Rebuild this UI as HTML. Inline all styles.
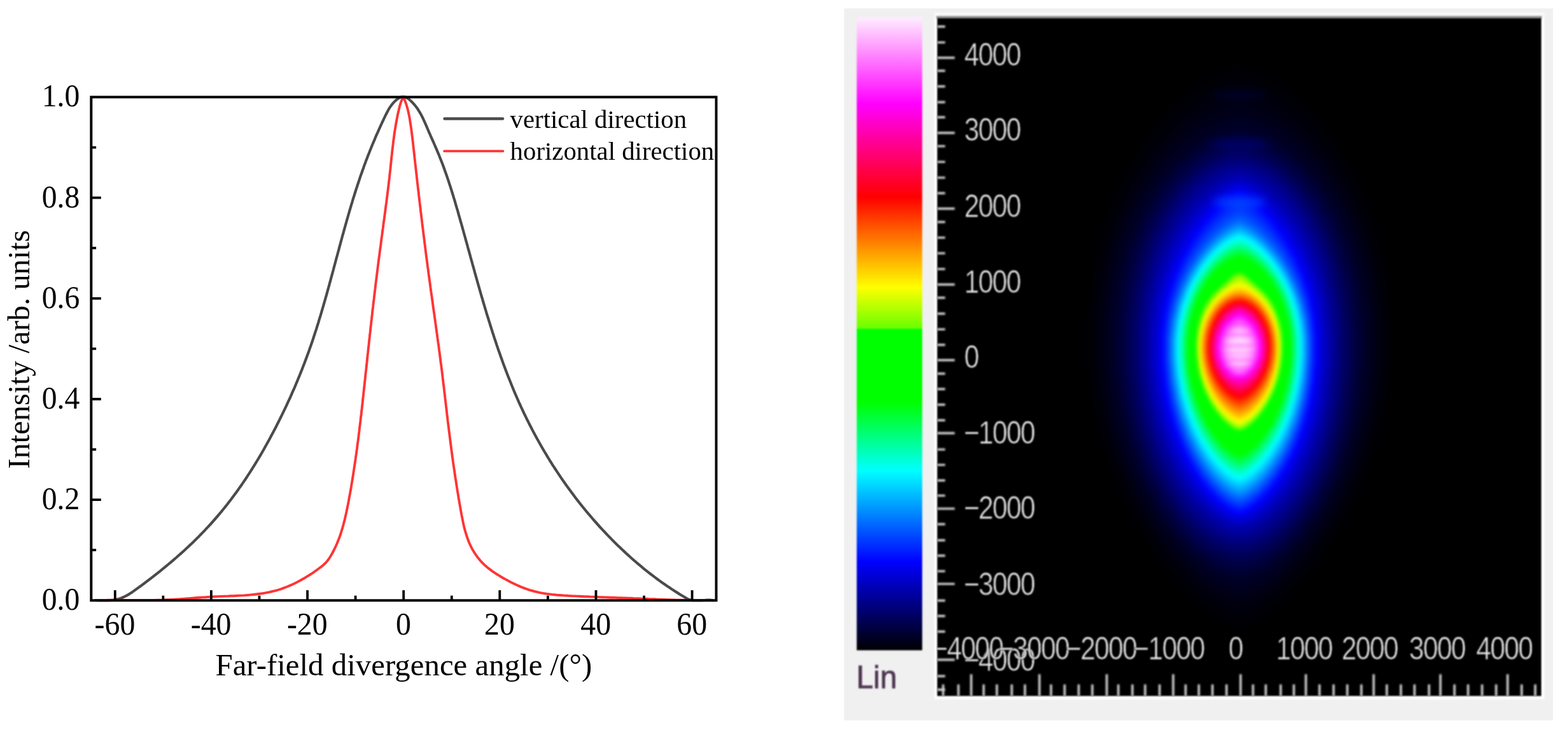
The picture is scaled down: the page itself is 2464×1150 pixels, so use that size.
<!DOCTYPE html>
<html lang="en">
<head>
<meta charset="utf-8">
<title>Far-field divergence angle and beam spot</title>
<style>
html,body{margin:0;padding:0;background:#fff;}
body{width:2464px;height:1150px;overflow:hidden;}
svg{display:block;}
</style>
</head>
<body>
<svg width="2464" height="1150" viewBox="0 0 2464 1150" role="img" aria-label="Far-field divergence curves and beam profile">
<defs>
<linearGradient id="cb" x1="0" y1="0" x2="0" y2="1"><stop offset="0%" stop-color="#ffeeff"/><stop offset="13.67%" stop-color="#ff00ff"/><stop offset="28.44%" stop-color="#ff0000"/><stop offset="42.66%" stop-color="#ffff00"/><stop offset="49.15%" stop-color="#69ff00"/><stop offset="49.3%" stop-color="#00ff00"/><stop offset="60.8%" stop-color="#00ff00"/><stop offset="71.63%" stop-color="#00ffff"/><stop offset="86%" stop-color="#0000ff"/><stop offset="100%" stop-color="#000000"/></linearGradient>
<clipPath id="pc"><rect x="1472.8" y="28.8" width="949.2" height="1064.6"/></clipPath>
<filter id="b1" color-interpolation-filters="sRGB" x="-5%" y="-5%" width="110%" height="110%"><feGaussianBlur color-interpolation-filters="sRGB" stdDeviation="1.1"/></filter>
<filter id="b2" color-interpolation-filters="sRGB" x="-5%" y="-5%" width="110%" height="110%"><feGaussianBlur color-interpolation-filters="sRGB" stdDeviation="1.35"/></filter>
<filter id="bt" color-interpolation-filters="sRGB" x="-10%" y="-30%" width="120%" height="160%"><feGaussianBlur color-interpolation-filters="sRGB" stdDeviation="1.15"/></filter>
<filter id="bs" color-interpolation-filters="sRGB" filterUnits="userSpaceOnUse" x="1400" y="0" width="1100" height="1150"><feGaussianBlur color-interpolation-filters="sRGB" stdDeviation="3.0"/></filter>
<filter id="bo" color-interpolation-filters="sRGB" filterUnits="userSpaceOnUse" x="1400" y="0" width="1100" height="1150"><feGaussianBlur color-interpolation-filters="sRGB" stdDeviation="6"/></filter>
<filter id="bo0" color-interpolation-filters="sRGB" filterUnits="userSpaceOnUse" x="1400" y="0" width="1100" height="1150"><feGaussianBlur color-interpolation-filters="sRGB" stdDeviation="12"/></filter>
</defs>
<rect width="2464" height="1150" fill="#ffffff"/>
<g id="chart">
<g fill="none" stroke-linejoin="round" stroke-linecap="round">
<path d="M150,943 L154.4,943.1 L158.7,943.1 L162.9,943.1 L167,943.1 L171,943.1 L174.9,942.9 L178.7,942.5 L182.4,941.8 L186,941 L189.6,939.9 L193.1,938.5 L196.6,936.9 L200,935.1 L203.4,933.1 L206.7,930.9 L210,928.6 L213.3,926.3 L216.6,923.9 L219.9,921.5 L223.2,919.1 L226.4,916.7 L229.7,914.2 L232.9,911.8 L236.1,909.3 L239.3,906.8 L242.5,904.3 L245.7,901.8 L248.9,899.3 L252.1,896.8 L255.3,894.2 L258.4,891.7 L261.5,889.1 L264.6,886.5 L267.8,883.9 L270.8,881.3 L273.9,878.6 L277,876 L280,873.3 L283.1,870.6 L286.1,867.9 L289.1,865.2 L292,862.5 L295,859.7 L297.9,856.9 L300.9,854.2 L303.8,851.4 L306.7,848.6 L309.5,845.7 L312.4,842.9 L315.2,840 L318,837.1 L320.8,834.3 L323.5,831.3 L326.3,828.4 L329,825.5 L331.7,822.5 L334.4,819.5 L337,816.5 L339.6,813.5 L342.2,810.5 L344.8,807.4 L347.4,804.4 L349.9,801.3 L352.4,798.2 L354.9,795.1 L357.4,792 L359.8,788.8 L362.2,785.7 L364.6,782.5 L367,779.3 L369.4,776.1 L371.7,772.9 L374,769.7 L376.3,766.4 L378.6,763.2 L380.9,759.9 L383.1,756.6 L385.4,753.3 L387.6,750 L389.7,746.6 L391.9,743.3 L394.1,739.9 L396.2,736.6 L398.3,733.2 L400.4,729.8 L402.5,726.4 L404.6,723 L406.6,719.6 L408.7,716.1 L410.7,712.7 L412.7,709.2 L414.7,705.7 L416.6,702.2 L418.6,698.7 L420.5,695.2 L422.5,691.7 L424.4,688.2 L426.3,684.6 L428.2,681.1 L430.1,677.5 L431.9,674 L433.8,670.4 L435.6,666.8 L437.4,663.2 L439.2,659.6 L441,656 L442.8,652.4 L444.6,648.7 L446.3,645.1 L448.1,641.4 L449.8,637.8 L451.5,634.1 L453.2,630.4 L454.9,626.8 L456.6,623.1 L458.2,619.4 L459.8,615.7 L461.5,612 L463.1,608.3 L464.7,604.5 L466.2,600.8 L467.8,597.1 L469.3,593.3 L470.9,589.6 L472.4,585.8 L473.9,582.1 L475.4,578.3 L476.8,574.6 L478.3,570.8 L479.7,567 L481.1,563.2 L482.5,559.4 L483.9,555.7 L485.3,551.9 L486.6,548.1 L488,544.3 L489.3,540.5 L490.6,536.7 L491.9,532.8 L493.1,529 L494.4,525.2 L495.6,521.4 L496.9,517.6 L498.1,513.7 L499.3,509.9 L500.5,506.1 L501.6,502.2 L502.8,498.4 L504,494.6 L505.1,490.7 L506.2,486.9 L507.4,483 L508.5,479.2 L509.6,475.3 L510.7,471.5 L511.8,467.6 L512.9,463.8 L514,459.9 L515,456.1 L516.1,452.2 L517.2,448.4 L518.2,444.5 L519.3,440.6 L520.3,436.8 L521.4,432.9 L522.4,429.1 L523.5,425.2 L524.5,421.3 L525.5,417.5 L526.6,413.6 L527.6,409.7 L528.6,405.9 L529.7,402 L530.7,398.2 L531.8,394.3 L532.8,390.4 L533.8,386.6 L534.9,382.7 L535.9,378.8 L537,375 L538,371.1 L539.1,367.3 L540.2,363.4 L541.2,359.6 L542.3,355.7 L543.4,351.9 L544.5,348 L545.6,344.2 L546.7,340.3 L547.8,336.5 L548.9,332.6 L550,328.8 L551.2,324.9 L552.3,321.1 L553.5,317.3 L554.6,313.4 L555.8,309.6 L557,305.8 L558.2,302 L559.4,298.2 L560.7,294.3 L561.9,290.5 L563.2,286.7 L564.5,282.9 L565.7,279.1 L567,275.3 L568.4,271.5 L569.7,267.7 L571.1,263.9 L572.4,260.1 L573.8,256.4 L575.2,252.6 L576.7,248.8 L578.1,245.1 L579.6,241.3 L581.1,237.5 L582.6,233.8 L584.1,230 L585.6,226.3 L587.2,222.6 L588.8,218.9 L590.3,215.1 L591.9,211.4 L593.6,207.8 L595.2,204.1 L596.9,200.4 L598.5,196.8 L600.2,193.1 L601.9,189.5 L603.6,185.9 L605.3,182.3 L607.1,178.7 L608.9,175.2 L610.8,171.7 L612.9,168.4 L615.2,165.1 L617.8,161.9 L620.7,158.9 L623.9,156.1 L627.4,153.7 L631,152.3 L634.6,152 L638.2,153.1 L641.7,155.2 L645,158 L648.1,161 L650.9,164.1 L653.5,167.3 L655.9,170.5 L658,173.8 L660,177.1 L661.9,180.5 L663.7,183.9 L665.3,187.3 L666.9,190.8 L668.5,194.4 L670,197.9 L671.6,201.6 L673.1,205.2 L674.7,208.9 L676.3,212.5 L678,216.3 L679.6,220 L681.3,223.7 L682.9,227.5 L684.6,231.3 L686.2,235.1 L687.8,238.9 L689.4,242.6 L690.9,246.4 L692.4,250.2 L693.9,254 L695.4,257.8 L696.8,261.6 L698.2,265.4 L699.5,269.2 L700.9,273 L702.2,276.8 L703.5,280.6 L704.8,284.4 L706,288.2 L707.3,292 L708.5,295.9 L709.7,299.7 L710.9,303.5 L712.1,307.3 L713.2,311.1 L714.4,314.9 L715.5,318.8 L716.6,322.6 L717.7,326.4 L718.9,330.2 L720,334.1 L721,337.9 L722.1,341.7 L723.2,345.6 L724.3,349.4 L725.4,353.3 L726.5,357.1 L727.6,361 L728.6,364.8 L729.7,368.7 L730.8,372.5 L731.8,376.4 L732.9,380.3 L734,384.1 L735,388 L736.1,391.9 L737.2,395.7 L738.3,399.6 L739.3,403.5 L740.4,407.3 L741.5,411.2 L742.5,415.1 L743.6,418.9 L744.7,422.8 L745.8,426.7 L746.8,430.5 L747.9,434.4 L749,438.3 L750.1,442.2 L751.2,446 L752.3,449.9 L753.4,453.8 L754.5,457.6 L755.6,461.5 L756.7,465.3 L757.9,469.2 L759,473.1 L760.1,476.9 L761.3,480.8 L762.4,484.6 L763.6,488.5 L764.7,492.3 L765.9,496.2 L767.1,500 L768.3,503.9 L769.5,507.7 L770.7,511.5 L771.9,515.4 L773.1,519.2 L774.3,523 L775.6,526.8 L776.8,530.7 L778.1,534.5 L779.4,538.3 L780.6,542.1 L781.9,545.9 L783.2,549.7 L784.6,553.5 L785.9,557.3 L787.2,561 L788.6,564.8 L789.9,568.6 L791.3,572.4 L792.7,576.1 L794.1,579.9 L795.5,583.6 L797,587.4 L798.4,591.1 L799.9,594.8 L801.4,598.6 L802.9,602.3 L804.4,606 L805.9,609.7 L807.4,613.4 L809,617.1 L810.6,620.8 L812.2,624.5 L813.8,628.1 L815.4,631.8 L817.1,635.5 L818.7,639.1 L820.4,642.7 L822.1,646.4 L823.8,650 L825.6,653.6 L827.3,657.2 L829.1,660.8 L830.9,664.4 L832.7,668 L834.6,671.6 L836.4,675.1 L838.3,678.7 L840.2,682.2 L842.1,685.8 L844,689.3 L846,692.8 L847.9,696.3 L849.9,699.8 L851.9,703.3 L854,706.8 L856,710.2 L858.1,713.7 L860.1,717.1 L862.2,720.5 L864.3,724 L866.5,727.4 L868.6,730.8 L870.8,734.1 L873,737.5 L875.2,740.9 L877.4,744.2 L879.7,747.6 L881.9,750.9 L884.2,754.2 L886.5,757.5 L888.8,760.8 L891.1,764 L893.5,767.3 L895.9,770.5 L898.3,773.8 L900.7,777 L903.1,780.2 L905.5,783.4 L908,786.6 L910.4,789.7 L912.9,792.9 L915.4,796 L918,799.1 L920.5,802.2 L923.1,805.3 L925.7,808.4 L928.3,811.4 L930.9,814.5 L933.5,817.5 L936.2,820.5 L938.8,823.5 L941.5,826.5 L944.2,829.5 L946.9,832.4 L949.7,835.3 L952.4,838.2 L955.2,841.1 L958,844 L960.8,846.9 L963.6,849.7 L966.4,852.6 L969.3,855.4 L972.2,858.2 L975.1,860.9 L978,863.7 L980.9,866.4 L983.8,869.2 L986.8,871.9 L989.7,874.5 L992.7,877.2 L995.7,879.8 L998.8,882.5 L1001.8,885.1 L1004.9,887.7 L1007.9,890.2 L1011,892.8 L1014.1,895.3 L1017.3,897.8 L1020.4,900.3 L1023.6,902.7 L1026.8,905.2 L1030,907.6 L1033.2,910 L1036.4,912.4 L1039.7,914.7 L1043,917 L1046.3,919.3 L1049.6,921.6 L1053,923.8 L1056.3,926.1 L1059.7,928.3 L1063.1,930.4 L1066.6,932.6 L1070,934.7 L1073.5,936.8 L1077,938.9 L1080.5,940.8 L1084.1,942.4 L1087.7,943.1 L1091.4,943.1 L1095.2,943.1 L1099,943.1 L1102.9,943.1 L1107,943 L1111.2,942.7 L1115.5,942.7 L1120,943.1" stroke="#4b4b4b" stroke-width="4.2"/>
<path d="M150,943.1 L154,943.1 L158.1,943 L162.1,942.9 L166.2,942.9 L170.2,942.8 L174.2,942.8 L178.3,942.8 L182.3,942.8 L186.3,942.8 L190.3,942.8 L194.3,942.9 L198.3,942.9 L202.4,942.9 L206.4,943 L210.4,943 L214.4,943 L218.4,943 L222.4,943 L226.4,943 L230.4,943 L234.4,943 L238.4,943 L242.4,942.9 L246.4,942.8 L250.4,942.8 L254.3,942.6 L258.3,942.5 L262.3,942.3 L266.3,942.2 L270.3,941.9 L274.3,941.7 L278.3,941.4 L282.3,941.2 L286.3,940.9 L290.3,940.6 L294.3,940.3 L298.3,940 L302.4,939.6 L306.4,939.3 L310.4,939 L314.4,938.7 L318.4,938.4 L322.4,938.2 L326.5,937.9 L330.5,937.7 L334.5,937.5 L338.6,937.3 L342.6,937.1 L346.6,936.9 L350.7,936.8 L354.7,936.6 L358.8,936.5 L362.8,936.3 L366.8,936.2 L370.9,936 L374.9,935.8 L378.9,935.6 L382.9,935.4 L386.9,935.1 L390.9,934.8 L394.9,934.4 L398.9,934 L402.8,933.5 L406.8,933 L410.7,932.5 L414.7,931.8 L418.6,931.1 L422.5,930.4 L426.4,929.5 L430.2,928.6 L434.1,927.6 L437.9,926.5 L441.7,925.3 L445.5,923.9 L449.3,922.5 L453,921 L456.7,919.4 L460.4,917.7 L464.1,916 L467.7,914.1 L471.3,912.2 L474.8,910.3 L478.3,908.3 L481.7,906.2 L485.1,904.1 L488.5,902 L491.8,899.8 L495,897.5 L498.3,895.2 L501.5,892.8 L504.8,890.4 L508,887.7 L511,885 L513.7,882 L516.2,878.8 L518.4,875.5 L520.5,872 L522.5,868.5 L524.3,865 L526.1,861.4 L527.8,857.8 L529.4,854.2 L530.9,850.5 L532.4,846.8 L533.8,843.1 L535.1,839.3 L536.3,835.5 L537.5,831.7 L538.6,827.9 L539.7,824 L540.7,820.1 L541.7,816.2 L542.6,812.3 L543.5,808.4 L544.4,804.4 L545.2,800.5 L546,796.5 L546.8,792.6 L547.6,788.6 L548.3,784.6 L549,780.7 L549.8,776.7 L550.5,772.7 L551.2,768.8 L551.9,764.8 L552.5,760.8 L553.2,756.9 L553.8,752.9 L554.5,748.9 L555.1,745 L555.7,741 L556.3,737 L556.9,733 L557.5,729.1 L558.1,725.1 L558.7,721.1 L559.2,717.1 L559.8,713.2 L560.3,709.2 L560.9,705.2 L561.4,701.2 L561.9,697.2 L562.5,693.3 L563,689.3 L563.5,685.3 L564,681.3 L564.5,677.3 L564.9,673.4 L565.4,669.4 L565.9,665.4 L566.4,661.4 L566.8,657.4 L567.3,653.4 L567.8,649.4 L568.2,645.5 L568.7,641.5 L569.1,637.5 L569.6,633.5 L570,629.5 L570.4,625.5 L570.9,621.5 L571.3,617.6 L571.7,613.6 L572.2,609.6 L572.6,605.6 L573,601.6 L573.5,597.6 L573.9,593.6 L574.3,589.6 L574.7,585.7 L575.2,581.7 L575.6,577.7 L576,573.7 L576.5,569.7 L576.9,565.7 L577.3,561.7 L577.7,557.7 L578.2,553.7 L578.6,549.7 L579,545.8 L579.5,541.8 L579.9,537.8 L580.3,533.8 L580.8,529.8 L581.2,525.8 L581.7,521.8 L582.1,517.8 L582.5,513.8 L583,509.8 L583.4,505.8 L583.9,501.9 L584.3,497.9 L584.8,493.9 L585.2,489.9 L585.7,485.9 L586.2,481.9 L586.6,477.9 L587.1,473.9 L587.6,469.9 L588,465.9 L588.5,462 L589,458 L589.5,454 L589.9,450 L590.4,446 L590.9,442 L591.4,438 L591.9,434 L592.4,430 L592.9,426.1 L593.4,422.1 L593.9,418.1 L594.4,414.1 L594.9,410.1 L595.4,406.1 L596,402.1 L596.5,398.1 L597,394.2 L597.5,390.2 L598.1,386.2 L598.6,382.2 L599.1,378.2 L599.6,374.2 L600.2,370.3 L600.7,366.3 L601.2,362.3 L601.8,358.3 L602.3,354.3 L602.8,350.3 L603.4,346.4 L603.9,342.4 L604.4,338.4 L605,334.4 L605.5,330.4 L606,326.5 L606.5,322.5 L607.1,318.5 L607.6,314.5 L608.1,310.5 L608.6,306.6 L609.1,302.6 L609.6,298.6 L610.1,294.6 L610.6,290.6 L611,286.7 L611.5,282.7 L612,278.7 L612.4,274.7 L612.8,270.7 L613.3,266.8 L613.7,262.8 L614.1,258.8 L614.5,254.8 L614.9,250.8 L615.3,246.8 L615.8,242.8 L616.2,238.8 L616.6,234.9 L617.1,230.9 L617.6,226.9 L618,222.9 L618.6,218.9 L619.1,214.9 L619.6,210.9 L620.2,206.9 L620.9,202.9 L621.5,198.9 L622.2,194.9 L622.9,190.9 L623.6,187 L624.4,183 L625.2,179.1 L626.1,175.2 L627,171.4 L627.9,167.5 L629,163.7 L630.2,160 L631.8,156.3 L633.8,152.6 L635.5,156.4 L637.1,160.1 L638.4,163.9 L639.6,167.8 L640.7,171.6 L641.6,175.5 L642.4,179.3 L643.2,183.2 L643.9,187.1 L644.5,191.1 L645.1,195 L645.7,199 L646.3,202.9 L646.8,206.9 L647.3,210.9 L647.8,214.9 L648.3,218.9 L648.8,222.9 L649.2,226.9 L649.7,230.9 L650.1,234.9 L650.6,238.9 L651,242.9 L651.4,246.9 L651.9,250.9 L652.3,254.9 L652.8,258.9 L653.2,262.9 L653.7,267 L654.1,271 L654.6,275 L655,279 L655.5,283 L655.9,287 L656.4,291 L656.8,295 L657.3,299 L657.8,303 L658.2,306.9 L658.7,310.9 L659.2,314.9 L659.6,318.9 L660.1,322.9 L660.6,326.9 L661,330.9 L661.5,334.9 L662,338.9 L662.5,342.9 L663,346.9 L663.4,350.9 L663.9,354.9 L664.4,358.8 L664.9,362.8 L665.4,366.8 L665.9,370.8 L666.4,374.8 L666.9,378.8 L667.4,382.8 L667.9,386.7 L668.4,390.7 L668.9,394.7 L669.4,398.7 L669.9,402.7 L670.5,406.7 L671,410.7 L671.5,414.6 L672,418.6 L672.6,422.6 L673.1,426.6 L673.6,430.6 L674.2,434.6 L674.7,438.5 L675.3,442.5 L675.8,446.5 L676.3,450.5 L676.9,454.5 L677.4,458.5 L678,462.5 L678.6,466.4 L679.1,470.4 L679.7,474.4 L680.2,478.4 L680.8,482.4 L681.3,486.4 L681.9,490.3 L682.5,494.3 L683,498.3 L683.6,502.3 L684.1,506.3 L684.7,510.3 L685.2,514.2 L685.8,518.2 L686.3,522.2 L686.9,526.2 L687.4,530.2 L688,534.2 L688.5,538.2 L689.1,542.1 L689.6,546.1 L690.1,550.1 L690.7,554.1 L691.2,558.1 L691.7,562.1 L692.2,566 L692.7,570 L693.3,574 L693.8,578 L694.3,582 L694.8,586 L695.3,590 L695.7,593.9 L696.2,597.9 L696.7,601.9 L697.2,605.9 L697.7,609.9 L698.1,613.9 L698.6,617.8 L699.1,621.8 L699.5,625.8 L700,629.8 L700.5,633.8 L700.9,637.8 L701.4,641.8 L701.9,645.7 L702.3,649.7 L702.8,653.7 L703.3,657.7 L703.7,661.7 L704.2,665.7 L704.7,669.7 L705.2,673.7 L705.7,677.6 L706.2,681.6 L706.7,685.6 L707.2,689.6 L707.7,693.6 L708.2,697.6 L708.7,701.6 L709.2,705.5 L709.8,709.5 L710.3,713.5 L710.8,717.5 L711.4,721.5 L711.9,725.5 L712.5,729.5 L713.1,733.5 L713.7,737.5 L714.3,741.4 L714.8,745.4 L715.4,749.4 L716.1,753.4 L716.7,757.4 L717.3,761.4 L717.9,765.4 L718.6,769.4 L719.2,773.4 L719.9,777.3 L720.5,781.3 L721.2,785.3 L721.9,789.3 L722.6,793.3 L723.3,797.3 L724,801.3 L724.7,805.3 L725.4,809.3 L726.2,813.2 L727,817.2 L727.8,821.2 L728.7,825.1 L729.6,829 L730.6,832.9 L731.7,836.7 L732.9,840.5 L734.1,844.3 L735.5,848 L736.9,851.7 L738.5,855.3 L740.2,858.9 L742,862.4 L744,865.8 L746.1,869.2 L748.3,872.5 L750.7,875.7 L753.2,878.8 L755.8,881.9 L758.6,884.8 L761.5,887.6 L764.5,890.3 L767.7,892.9 L771,895.4 L774.3,897.8 L777.7,900.1 L781.1,902.3 L784.5,904.4 L787.9,906.5 L791.3,908.5 L794.8,910.4 L798.3,912.3 L801.9,914.2 L805.5,916 L809.2,917.8 L812.9,919.5 L816.6,921.1 L820.3,922.7 L824.1,924.1 L828,925.5 L831.8,926.8 L835.6,927.9 L839.5,929 L843.4,929.9 L847.3,930.8 L851.2,931.6 L855.1,932.3 L859,932.9 L862.9,933.4 L866.9,933.9 L870.8,934.3 L874.8,934.7 L878.8,935 L882.7,935.3 L886.7,935.6 L890.7,935.8 L894.7,936.1 L898.7,936.3 L902.7,936.4 L906.8,936.6 L910.8,936.8 L914.8,937 L918.8,937.2 L922.9,937.3 L926.9,937.5 L931,937.6 L935,937.8 L939,937.9 L943.1,938.1 L947.1,938.2 L951.2,938.4 L955.2,938.5 L959.3,938.7 L963.3,938.8 L967.4,938.9 L971.4,939.1 L975.5,939.2 L979.5,939.4 L983.5,939.5 L987.6,939.7 L991.6,939.8 L995.6,940 L999.6,940.1 L1003.6,940.3 L1007.6,940.5 L1011.6,940.6 L1015.7,940.8 L1019.7,941 L1023.7,941.1 L1027.6,941.3 L1031.6,941.5 L1035.6,941.6 L1039.6,941.8 L1043.6,941.9 L1047.6,942.1 L1051.6,942.2 L1055.6,942.4 L1059.6,942.5 L1063.6,942.6 L1067.6,942.7 L1071.6,942.8 L1075.6,942.9 L1079.6,943 L1083.7,943.1 L1087.7,943.1 L1091.7,943.1 L1095.7,943.1 L1099.8,943.1 L1103.8,943.1 L1107.8,943.1 L1111.9,943.1 L1115.9,943.1 L1120,943.1" stroke="#ff3434" stroke-width="3.9"/>
</g>
<rect x="143.3" y="152.5" width="982.2" height="790.8" fill="none" stroke="#000" stroke-width="4"/>
<path d="M180.8,943.3V927.3M256.4,943.3V935.7M331.9,943.3V927.3M407.5,943.3V935.7M483.1,943.3V927.3M558.6,943.3V935.7M634.2,943.3V927.3M709.8,943.3V935.7M785.3,943.3V927.3M860.9,943.3V935.7M936.5,943.3V927.3M1012.1,943.3V935.7M1087.6,943.3V927.3M143.3,864.2H151.1M143.3,785.1H158.8M143.3,706.1H151.1M143.3,627H158.8M143.3,547.9H151.1M143.3,468.8H158.8M143.3,389.7H151.1M143.3,310.7H158.8M143.3,231.6H151.1" fill="none" stroke="#000" stroke-width="3.8"/>
<g font-family='"Liberation Serif", "Times New Roman", Times, serif' font-size="48.6" fill="#000">
<g text-anchor="middle">
<text transform="translate(180.5,997.3) scale(0.985,1.025)">-60</text>
<text transform="translate(331.6,997.3) scale(0.985,1.025)">-40</text>
<text transform="translate(482.8,997.3) scale(0.985,1.025)">-20</text>
<text transform="translate(633.9,997.3) scale(0.985,1.025)">0</text>
<text transform="translate(785,997.3) scale(0.985,1.025)">20</text>
<text transform="translate(936.2,997.3) scale(0.985,1.025)">40</text>
<text transform="translate(1087.3,997.3) scale(0.985,1.025)">60</text>
</g>
<g text-anchor="end">
<text transform="translate(125.3,958.1) scale(0.98,1.04)">0.0</text>
<text transform="translate(125.3,799.9) scale(0.98,1.04)">0.2</text>
<text transform="translate(125.3,641.8) scale(0.98,1.04)">0.4</text>
<text transform="translate(125.3,483.6) scale(0.98,1.04)">0.6</text>
<text transform="translate(125.3,325.5) scale(0.98,1.04)">0.8</text>
<text transform="translate(125.3,167.3) scale(0.98,1.04)">1.0</text>
</g>
</g>
<text x="634.4" y="1060.8" font-family='"Liberation Serif", "Times New Roman", Times, serif' font-size="48.9" text-anchor="middle" fill="#000">Far-field divergence angle /(°)</text>
<text transform="translate(45.7,549) rotate(-90)" font-family='"Liberation Serif", "Times New Roman", Times, serif' font-size="48.4" text-anchor="middle" fill="#000">Intensity /arb. units</text>
<g fill="none" stroke-linecap="round">
<path d="M698.6,186.6H790" stroke="#4b4b4b" stroke-width="4.5"/>
<path d="M698.2,237.4H790.4" stroke="#ff3434" stroke-width="3.7"/>
</g>
<g font-family='"Liberation Serif", "Times New Roman", Times, serif' font-size="40.8" fill="#000">
<text x="801.6" y="200.8">vertical direction</text>
<text x="801.6" y="250.8">horizontal direction</text>
</g>
</g>
<g id="panel">
<rect x="1326.5" y="13.2" width="1114" height="1118.5" fill="#f0f0f0"/>
<rect x="1346.3" y="27.0" width="102.9" height="994.6" fill="url(#cb)" filter="url(#b1)"/>
<g filter="url(#b1)">
<rect x="1468.3" y="19.3" width="958.7" height="8" fill="#f8f8f8"/>
<rect x="1468.3" y="26.8" width="958.5" height="1072" fill="#ffffff"/>
<rect x="1471.3" y="25.2" width="951.7" height="4" fill="#909090"/>
<rect x="1472.8" y="28.8" width="949.2" height="1064.6" fill="#000"/>
</g>
<g clip-path="url(#pc)">
<g filter="url(#bo0)">
<path d="M2189.5,576.1L2179.1,646.8L2159.1,719.6L2130.9,789.6L2096.3,853.2L2058.1,907.6L2019.2,950.6L1983.3,980.2L1955.1,995.3L1939.9,995.3L1911.7,980.2L1875.8,950.6L1836.9,907.6L1798.7,853.2L1764.1,789.6L1735.9,719.6L1715.9,646.8L1705.5,576.1L1705.4,496.3L1715.1,412.4L1734,337.4L1760.8,270.6L1793.9,212.9L1831.2,165.2L1869.9,128.6L1907,103.7L1938,91.1L1957,91.1L1988,103.7L2025.1,128.6L2063.8,165.2L2101.1,212.9L2134.2,270.6L2161,337.4L2179.9,412.4L2189.6,496.3Z" fill="#000002"/>
<path d="M2188.5,576L2178.2,646.4L2158.3,719L2130.2,788.7L2095.8,852.1L2057.7,906.3L2019,949.1L1983.2,978.6L1955.1,993.6L1939.9,993.6L1911.8,978.6L1876,949.1L1837.3,906.3L1799.2,852.1L1764.8,788.7L1736.7,719L1716.8,646.4L1706.5,576L1706.4,496.6L1716.1,413L1734.8,338.3L1761.5,271.9L1794.5,214.4L1831.6,167L1870.2,130.5L1907.2,105.7L1938,93.2L1957,93.2L1987.8,105.7L2024.8,130.5L2063.4,167L2100.5,214.4L2133.5,271.9L2160.2,338.3L2178.9,413L2188.6,496.6Z" fill="#000002"/>
<path d="M2187.4,576L2177.2,646.1L2157.4,718.3L2129.4,787.7L2095.2,850.9L2057.4,904.8L2018.8,947.4L1983.1,976.8L1955.1,991.7L1939.9,991.7L1911.9,976.8L1876.2,947.4L1837.6,904.8L1799.8,850.9L1765.6,787.7L1737.6,718.3L1717.8,646.1L1707.6,576L1707.5,496.8L1717.1,413.7L1735.8,339.4L1762.3,273.3L1795.1,216.1L1832,168.9L1870.5,132.6L1907.3,108L1938,95.5L1957,95.5L1987.7,108L2024.5,132.6L2063,168.9L2099.9,216.1L2132.7,273.3L2159.2,339.4L2177.9,413.7L2187.5,496.8Z" fill="#000002"/>
<path d="M2186.2,575.8L2176,645.7L2156.3,717.6L2128.5,786.7L2094.6,849.5L2056.9,903.2L2018.6,945.5L1983.1,974.7L1955.1,989.6L1939.9,989.6L1911.9,974.7L1876.4,945.5L1838.1,903.2L1800.4,849.5L1766.5,786.7L1738.7,717.6L1719,645.7L1708.8,575.8L1708.7,497.1L1718.3,414.5L1736.8,340.6L1763.2,274.9L1795.8,218.1L1832.5,171.1L1870.8,135L1907.4,110.5L1938,98.2L1957,98.2L1987.6,110.5L2024.2,135L2062.5,171.1L2099.2,218.1L2131.8,274.9L2158.2,340.6L2176.7,414.5L2186.3,497.1Z" fill="#000003"/>
<path d="M2184.9,575.7L2174.8,645.2L2155.2,716.8L2127.6,785.5L2093.9,847.9L2056.5,901.4L2018.4,943.5L1983,972.5L1955.2,987.3L1939.8,987.3L1912,972.5L1876.6,943.5L1838.5,901.4L1801.1,847.9L1767.4,785.5L1739.8,716.8L1720.2,645.2L1710.1,575.7L1710,497.4L1719.5,415.3L1738,341.9L1764.2,276.6L1796.6,220.2L1833.1,173.6L1871.1,137.7L1907.6,113.4L1938,101.1L1957,101.1L1987.4,113.4L2023.9,137.7L2061.9,173.6L2098.4,220.2L2130.8,276.6L2157,341.9L2175.5,415.3L2185,497.4Z" fill="#000003"/>
<path d="M2183.5,575.6L2173.5,644.7L2154.1,715.9L2126.7,784.2L2093.2,846.3L2056.1,899.4L2018.1,941.2L1982.9,970.1L1955.2,984.8L1939.8,984.8L1912.1,970.1L1876.9,941.2L1838.9,899.4L1801.8,846.3L1768.3,784.2L1740.9,715.9L1721.5,644.7L1711.5,575.6L1711.4,497.8L1720.8,416.3L1739.1,343.4L1765.2,278.5L1797.4,222.5L1833.6,176.2L1871.4,140.6L1907.7,116.4L1938,104.2L1957,104.2L1987.3,116.4L2023.6,140.6L2061.4,176.2L2097.6,222.5L2129.8,278.5L2155.9,343.4L2174.2,416.3L2183.6,497.8Z" fill="#000004"/>
<path d="M2182,575.5L2172.1,644.2L2152.9,714.9L2125.7,782.8L2092.5,844.4L2055.6,897.2L2017.9,938.7L1982.9,967.4L1955.2,982L1939.8,982L1912.1,967.4L1877.1,938.7L1839.4,897.2L1802.5,844.4L1769.3,782.8L1742.1,714.9L1722.9,644.2L1713,575.5L1712.9,498.1L1722.2,417.3L1740.4,345L1766.2,280.6L1798.2,225L1834.2,179.1L1871.8,143.8L1907.8,119.8L1938.1,107.7L1956.9,107.7L1987.2,119.8L2023.2,143.8L2060.8,179.1L2096.8,225L2128.8,280.6L2154.6,345L2172.8,417.3L2182.1,498.1Z" fill="#000005"/>
<path d="M2180.5,575.3L2170.6,643.6L2151.6,713.8L2124.7,781.2L2091.7,842.4L2055.1,894.7L2017.7,935.9L1982.8,964.4L1955.2,978.9L1939.8,978.9L1912.2,964.4L1877.3,935.9L1839.9,894.7L1803.3,842.4L1770.3,781.2L1743.4,713.8L1724.4,643.6L1714.5,575.3L1714.5,498.6L1723.7,418.4L1741.7,346.7L1767.4,283L1799.1,227.9L1834.8,182.3L1872.1,147.3L1908,123.6L1938.1,111.5L1956.9,111.5L1987,123.6L2022.9,147.3L2060.2,182.3L2095.9,227.9L2127.6,283L2153.3,346.7L2171.3,418.4L2180.5,498.6Z" fill="#000005"/>
<path d="M2178.8,575.2L2169,643L2150.2,712.6L2123.5,779.5L2090.9,840.1L2054.6,892L2017.5,932.9L1982.8,961.1L1955.2,975.4L1939.8,975.4L1912.2,961.1L1877.5,932.9L1840.4,892L1804.1,840.1L1771.5,779.5L1744.8,712.6L1726,643L1716.2,575.2L1716.2,499L1725.3,419.7L1743.2,348.7L1768.6,285.5L1800,231L1835.5,185.9L1872.5,151.2L1908.1,127.7L1938.1,115.8L1956.9,115.8L1986.9,127.7L2022.5,151.2L2059.5,185.9L2095,231L2126.4,285.5L2151.8,348.7L2169.7,419.7L2178.8,499Z" fill="#000006"/>
<path d="M2177,575L2167.4,642.3L2148.7,711.4L2122.4,777.6L2090.1,837.7L2054.1,889.1L2017.3,929.6L1982.8,957.5L1955.3,971.7L1939.7,971.7L1912.2,957.5L1877.7,929.6L1840.9,889.1L1804.9,837.7L1772.6,777.6L1746.3,711.4L1727.6,642.3L1718,575L1718,499.5L1727,421L1744.7,350.8L1769.9,288.3L1801,234.3L1836.1,189.7L1872.8,155.4L1908.2,132.2L1938.1,120.4L1956.9,120.4L1986.8,132.2L2022.2,155.4L2058.9,189.7L2094,234.3L2125.1,288.3L2150.3,350.8L2168,421L2177,499.5Z" fill="#000007"/>
<path d="M2175.1,574.8L2165.6,641.6L2147.2,710L2121.2,775.6L2089.2,835.2L2053.6,886.1L2017.1,926.1L1982.8,953.7L1955.3,967.8L1939.7,967.8L1912.2,953.7L1877.9,926.1L1841.4,886.1L1805.8,835.2L1773.8,775.6L1747.8,710L1729.4,641.6L1719.9,574.8L1719.8,500.1L1728.8,422.5L1746.3,353.1L1771.2,291.3L1802,238L1836.8,193.9L1873.2,160L1908.3,137L1938.1,125.3L1956.9,125.3L1986.7,137L2021.8,160L2058.2,193.9L2093,238L2123.8,291.3L2148.7,353.1L2166.2,422.5L2175.2,500.1Z" fill="#000009"/>
<path d="M2173.1,574.7L2163.8,640.9L2145.6,708.7L2119.9,773.7L2088.3,832.6L2053.1,883L2016.9,922.6L1982.9,949.9L1955.4,963.9L1939.6,963.9L1912.1,949.9L1878.1,922.6L1841.9,883L1806.7,832.6L1775.1,773.7L1749.4,708.7L1731.2,640.9L1721.9,574.7L1721.8,500.7L1730.7,424L1747.9,355.5L1772.6,294.5L1803,241.8L1837.5,198.3L1873.6,164.8L1908.5,142.1L1938,130.6L1957,130.6L1986.5,142.1L2021.4,164.8L2057.5,198.3L2092,241.8L2122.4,294.5L2147.1,355.5L2164.3,424L2173.2,500.7Z" fill="#00000a"/>
<path d="M2171,574.5L2161.8,640.2L2144,707.3L2118.6,771.6L2087.5,829.9L2052.7,879.7L2016.8,918.9L1983,945.9L1955.5,959.7L1939.5,959.7L1912,945.9L1878.2,918.9L1842.3,879.7L1807.5,829.9L1776.4,771.6L1751,707.3L1733.2,640.2L1724,574.5L1723.9,501.3L1732.7,425.7L1749.7,358.1L1774,298L1804.1,246.1L1838.2,203.1L1873.9,170.1L1908.5,147.7L1938,136.4L1957,136.4L1986.5,147.7L2021.1,170.1L2056.8,203.1L2090.9,246.1L2121,298L2145.3,358.1L2162.3,425.7L2171.1,501.3Z" fill="#00000c"/>
<path d="M2168.9,574.3L2159.8,639.4L2142.2,705.9L2117.3,769.5L2086.6,827.1L2052.2,876.3L2016.7,915L1983.1,941.7L1955.6,955.3L1939.4,955.3L1911.9,941.7L1878.3,915L1842.8,876.3L1808.4,827.1L1777.7,769.5L1752.8,705.9L1735.2,639.4L1726.1,574.3L1726.1,502L1734.7,427.5L1751.5,361L1775.5,301.8L1805.2,250.6L1838.9,208.3L1874.3,175.8L1908.6,153.8L1938,142.6L1957,142.6L1986.4,153.8L2020.7,175.8L2056.1,208.3L2089.8,250.6L2119.5,301.8L2143.5,361L2160.3,427.5L2168.9,502Z" fill="#00000e"/>
<path d="M2166.6,574.2L2157.7,638.7L2140.4,704.5L2115.9,767.3L2085.7,824.2L2051.8,872.8L2016.6,910.9L1983.3,937.3L1955.8,950.7L1939.2,950.7L1911.7,937.3L1878.4,910.9L1843.2,872.8L1809.3,824.2L1779.1,767.3L1754.6,704.5L1737.3,638.7L1728.4,574.2L1728.4,502.7L1736.9,429.5L1753.4,364L1777,305.8L1806.4,255.4L1839.6,213.9L1874.6,181.9L1908.7,160.2L1937.9,149.2L1957.1,149.2L1986.3,160.2L2020.4,181.9L2055.4,213.9L2088.6,255.4L2118,305.8L2141.6,364L2158.1,429.5L2166.6,502.7Z" fill="#000010"/>
<path d="M2164.1,574.1L2155.4,637.9L2138.5,702.9L2114.4,765L2084.7,821.1L2051.3,869L2016.6,906.6L1983.5,932.6L1955.9,945.8L1939.1,945.8L1911.5,932.6L1878.4,906.6L1843.7,869L1810.3,821.1L1780.6,765L1756.5,702.9L1739.6,637.9L1730.9,574.1L1730.8,503.4L1739.2,431.5L1755.5,367.2L1778.7,310L1807.6,260.5L1840.4,219.6L1874.9,188.2L1908.7,166.9L1937.8,156.1L1957.2,156.1L1986.3,166.9L2020.1,188.2L2054.6,219.6L2087.4,260.5L2116.3,310L2139.5,367.2L2155.8,431.5L2164.2,503.4Z" fill="#000013"/>
<path d="M2161.5,573.9L2153,637.1L2136.5,701.3L2112.9,762.5L2083.8,817.8L2051,864.9L2016.7,901.9L1983.8,927.5L1956.2,940.5L1938.8,940.5L1911.2,927.5L1878.3,901.9L1844,864.9L1811.2,817.8L1782.1,762.5L1758.5,701.3L1742,637.1L1733.5,573.9L1733.4,504.2L1741.6,433.7L1757.6,370.6L1780.4,314.5L1808.8,265.9L1841.1,225.9L1875.2,195L1908.7,174.1L1937.7,163.5L1957.3,163.5L1986.3,174.1L2019.8,195L2053.9,225.9L2086.2,265.9L2114.6,314.5L2137.4,370.6L2153.4,433.7L2161.6,504.2Z" fill="#000016"/>
<path d="M2158.9,573.8L2150.5,636.3L2134.4,699.6L2111.4,759.8L2082.9,814.2L2050.6,860.6L2016.8,897L1984.1,922.1L1956.4,934.8L1938.6,934.8L1910.9,922.1L1878.2,897L1844.4,860.6L1812.1,814.2L1783.6,759.8L1760.6,699.6L1744.5,636.3L1736.1,573.8L1736.1,505.1L1744.1,436L1759.8,374.2L1782.2,319.3L1810.1,271.8L1841.8,232.5L1875.5,202.3L1908.6,181.8L1937.6,171.5L1957.4,171.5L1986.4,181.8L2019.5,202.3L2053.2,232.5L2084.9,271.8L2112.8,319.3L2135.2,374.2L2150.9,436L2158.9,505.1Z" fill="#000019"/>
<path d="M2155.9,573.6L2147.8,635.4L2132.1,697.8L2109.7,757L2081.8,810.5L2050.3,856L2017,891.7L1984.6,916.3L1956.7,928.8L1938.3,928.8L1910.4,916.3L1878,891.7L1844.7,856L1813.2,810.5L1785.3,757L1762.9,697.8L1747.2,635.4L1739.1,573.6L1739.1,506L1746.9,438.4L1762.2,378L1784.1,324.2L1811.4,277.8L1842.6,239.4L1875.8,209.9L1908.5,189.8L1937.4,179.7L1957.6,179.7L1986.5,189.8L2019.2,209.9L2052.4,239.4L2083.6,277.8L2110.9,324.2L2132.8,378L2148.1,438.4L2155.9,506Z" fill="#00001d"/>
<path d="M2152.3,573.5L2144.5,634.6L2129.3,695.9L2107.6,754.1L2080.5,806.5L2049.7,851.1L2017.1,886.1L1985,910.2L1957,922.4L1938,922.4L1910,910.2L1877.9,886.1L1845.3,851.1L1814.5,806.5L1787.4,754.1L1765.7,695.9L1750.5,634.6L1742.7,573.5L1742.6,506.9L1750.3,440.8L1765.1,381.6L1786.5,329L1813.1,283.6L1843.6,246L1876.2,217.1L1908.5,197.5L1937.3,187.6L1957.7,187.6L1986.5,197.5L2018.8,217.1L2051.4,246L2081.9,283.6L2108.5,329L2129.9,381.6L2144.7,440.8L2152.4,506.9Z" fill="#000022"/>
<path d="M2148,573.4L2140.5,633.7L2125.9,693.9L2105,751L2078.8,802.3L2048.9,845.9L2017.1,880.1L1985.5,903.6L1957.4,915.5L1937.6,915.5L1909.5,903.6L1877.9,880.1L1846.1,845.9L1816.2,802.3L1790,751L1769.1,693.9L1754.5,633.7L1747,573.4L1747,507.7L1754.4,443.1L1768.7,385.3L1789.4,333.8L1815.3,289.3L1844.9,252.6L1876.7,224.4L1908.5,205.2L1937.1,195.5L1957.9,195.5L1986.5,205.2L2018.3,224.4L2050.1,252.6L2079.7,289.3L2105.6,333.8L2126.3,385.3L2140.6,443.1L2148,507.7Z" fill="#000028"/>
<path d="M2143,573.3L2135.8,632.7L2121.9,691.9L2101.9,747.7L2076.8,797.8L2047.9,840.3L2016.9,873.6L1985.9,896.5L1957.8,908.2L1937.2,908.2L1909.1,896.5L1878.1,873.6L1847.1,840.3L1818.2,797.8L1793.1,747.7L1773.1,691.9L1759.2,632.7L1752,573.3L1752,508.6L1759.1,445.4L1772.9,388.9L1792.8,338.6L1817.8,295.1L1846.5,259.2L1877.4,231.6L1908.5,212.9L1936.9,203.4L1958.1,203.4L1986.5,212.9L2017.6,231.6L2048.5,259.2L2077.2,295.1L2102.2,338.6L2122.1,388.9L2135.9,445.4L2143,508.6Z" fill="#00002f"/>
</g>
<g filter="url(#bo)">
<path d="M2137.6,573.3L2130.9,631.8L2117.6,689.8L2098.5,744.3L2074.5,793.2L2046.8,834.6L2016.8,867L1986.4,889.2L1958.3,900.6L1936.7,900.6L1908.6,889.2L1878.2,867L1848.2,834.6L1820.5,793.2L1796.5,744.3L1777.4,689.8L1764.1,631.8L1757.4,573.3L1757.4,509.4L1764.1,447.7L1777.4,392.4L1796.5,343.3L1820.5,300.8L1848.2,265.7L1878.2,238.7L1908.6,220.4L1936.7,211.2L1958.3,211.2L1986.4,220.4L2016.8,238.7L2046.8,265.7L2074.5,300.8L2098.5,343.3L2117.6,392.4L2130.9,447.7L2137.6,509.4Z" fill="#000037"/>
<path d="M2132.2,573.1L2125.7,630.7L2112.9,687.5L2094.5,740.7L2071.3,788.4L2044.4,828.7L2015.4,860.2L1985.8,881.8L1958.2,892.9L1936.8,892.9L1909.2,881.8L1879.6,860.2L1850.6,828.7L1823.7,788.4L1800.5,740.7L1782.1,687.5L1769.3,630.7L1762.8,573.1L1762.8,510.7L1769.4,450.6L1782.2,396.6L1800.7,348.5L1823.9,306.8L1850.8,272.4L1879.9,245.9L1909.5,227.9L1936.9,218.8L1958.1,218.8L1985.5,227.9L2015.1,245.9L2044.2,272.4L2071.1,306.8L2094.3,348.5L2112.8,396.6L2125.6,450.6L2132.2,510.7Z" fill="#000040"/>
<path d="M2127.3,573.1L2120.9,629.8L2108.6,685.5L2090.8,737.6L2068.3,784.1L2042.3,823.4L2014,854.2L1985.2,875.3L1958.2,886L1936.8,886L1909.8,875.3L1881,854.2L1852.7,823.4L1826.7,784.1L1804.2,737.6L1786.4,685.5L1774.1,629.8L1767.7,573.1L1767.7,511.9L1774.1,453.2L1786.5,400.3L1804.5,353L1827,312.1L1853.2,278.2L1881.5,252.1L1910.3,234.4L1937.1,225.4L1957.9,225.4L1984.7,234.4L2013.5,252.1L2041.8,278.2L2068,312.1L2090.5,353L2108.5,400.3L2120.9,453.2L2127.3,511.9Z" fill="#000049"/>
<path d="M2122.7,573L2116.6,629L2104.7,683.7L2087.4,734.7L2065.6,780.2L2040.3,818.7L2012.8,848.7L1984.6,869.2L1958.1,879.7L1936.9,879.7L1910.4,869.2L1882.2,848.7L1854.7,818.7L1829.4,780.2L1807.6,734.7L1790.3,683.7L1778.4,629L1772.3,573L1772.3,512.9L1778.5,455.5L1790.5,403.5L1808,357L1829.9,316.7L1855.3,283.2L1882.9,257.5L1911,240L1937.2,231.1L1957.8,231.1L1984,240L2012.1,257.5L2039.7,283.2L2065.1,316.7L2087,357L2104.5,403.5L2116.5,455.5L2122.7,512.9Z" fill="#000052"/>
<path d="M2118.5,572.9L2112.6,628.3L2101,682L2084.2,732L2063.1,776.6L2038.5,814.1L2011.7,843.4L1984.1,863.5L1958.1,873.7L1936.9,873.7L1910.9,863.5L1883.3,843.4L1856.5,814.1L1831.9,776.6L1810.8,732L1794,682L1782.4,628.3L1776.5,572.9L1776.5,513.9L1782.5,457.6L1794.3,406.4L1811.2,360.6L1832.6,320.7L1857.3,287.7L1884.2,262.2L1911.7,244.9L1937.4,236.1L1957.6,236.1L1983.3,244.9L2010.8,262.2L2037.7,287.7L2062.4,320.7L2083.8,360.6L2100.7,406.4L2112.5,457.6L2118.5,513.9Z" fill="#00005b"/>
<path d="M2114.5,572.9L2108.8,627.6L2097.5,680.4L2081.3,729.5L2060.7,773.2L2036.8,809.9L2010.6,838.5L1983.7,858.1L1958,868.1L1937,868.1L1911.3,858.1L1884.4,838.5L1858.2,809.9L1834.3,773.2L1813.7,729.5L1797.5,680.4L1786.2,627.6L1780.5,572.9L1780.5,514.7L1786.4,459.5L1797.8,409.1L1814.3,363.8L1835.1,324.4L1859.2,291.7L1885.5,266.5L1912.3,249.3L1937.5,240.6L1957.5,240.6L1982.7,249.3L2009.5,266.5L2035.8,291.7L2059.9,324.4L2080.7,363.8L2097.2,409.1L2108.6,459.5L2114.5,514.7Z" fill="#000064"/>
<path d="M2110.7,572.9L2105.2,626.9L2094.2,678.9L2078.4,727.1L2058.4,769.9L2035.1,805.8L2009.6,833.9L1983.2,853L1958,862.8L1937,862.8L1911.8,853L1885.4,833.9L1859.9,805.8L1836.6,769.9L1816.6,727.1L1800.8,678.9L1789.8,626.9L1784.3,572.9L1784.3,515.6L1790,461.3L1801.1,411.6L1817.2,366.8L1837.5,327.8L1861,295.4L1886.7,270.4L1912.9,253.4L1937.6,244.8L1957.4,244.8L1982.1,253.4L2008.3,270.4L2034,295.4L2057.5,327.8L2077.8,366.8L2093.9,411.6L2105,461.3L2110.7,515.6Z" fill="#00006d"/>
<path d="M2107.2,572.9L2101.8,626.3L2091.1,677.5L2075.8,724.9L2056.3,766.8L2033.6,802L2008.7,829.4L1982.8,848.2L1958,857.7L1937,857.7L1912.2,848.2L1886.3,829.4L1861.4,802L1838.7,766.8L1819.2,724.9L1803.9,677.5L1793.2,626.3L1787.8,572.9L1787.8,516.4L1793.4,463.1L1804.2,414.1L1819.9,369.8L1839.7,331.2L1862.7,299.1L1887.8,274.3L1913.5,257.4L1937.7,248.9L1957.3,248.9L1981.5,257.4L2007.2,274.3L2032.3,299.1L2055.3,331.2L2075.1,369.8L2090.8,414.1L2101.6,463.1L2107.2,516.4Z" fill="#000076"/>
<path d="M2103.8,572.8L2098.6,625.7L2088.2,676.2L2073.3,722.7L2054.3,763.8L2032.2,798.3L2007.8,825.1L1982.5,843.5L1957.9,852.8L1937.1,852.8L1912.5,843.5L1887.2,825.1L1862.8,798.3L1840.7,763.8L1821.7,722.7L1806.8,676.2L1796.4,625.7L1791.2,572.8L1791.2,517.2L1796.6,464.8L1807.2,416.5L1822.5,372.8L1841.8,334.7L1864.3,302.9L1888.8,278.3L1914,261.5L1937.8,253.1L1957.2,253.1L1981,261.5L2006.2,278.3L2030.7,302.9L2053.2,334.7L2072.5,372.8L2087.8,416.5L2098.4,464.8L2103.8,517.2Z" fill="#000080"/>
<path d="M2100.7,572.4L2095.4,624.5L2085.2,674.1L2070.4,719.9L2051.7,760.4L2029.8,794.3L2005.9,820.8L1981.1,838.8L1957.4,848L1937.6,848L1913.9,838.8L1889.1,820.8L1865.2,794.3L1843.3,760.4L1824.6,719.9L1809.8,674.1L1799.6,624.5L1794.3,572.4L1794.4,517.9L1799.8,466.4L1810.3,418.9L1825.6,375.8L1844.7,338.1L1867,306.7L1891.1,282.5L1915.6,265.9L1938.5,257.5L1956.5,257.5L1979.4,265.9L2003.9,282.5L2028,306.7L2050.3,338.1L2069.4,375.8L2084.7,418.9L2095.2,466.4L2100.6,517.9Z" fill="#000089"/>
<path d="M2097.7,572L2092.5,623.2L2082.3,672.1L2067.7,717.2L2049.1,757L2027.6,790.4L2004.1,816.4L1979.9,834.2L1956.9,843.3L1938.1,843.3L1915.1,834.2L1890.9,816.4L1867.4,790.4L1845.9,757L1827.3,717.2L1812.7,672.1L1802.5,623.2L1797.3,572L1797.4,518.6L1802.8,468.1L1813.3,421.3L1828.5,378.8L1847.5,341.7L1869.5,310.7L1893.2,286.8L1917.2,270.4L1939.2,262.2L1955.8,262.2L1977.8,270.4L2001.8,286.8L2025.5,310.7L2047.5,341.7L2066.5,378.8L2081.7,421.3L2092.2,468.1L2097.6,518.6Z" fill="#000092"/>
<path d="M2094.8,571.6L2089.6,622L2079.6,670.2L2065.1,714.5L2046.7,753.7L2025.5,786.7L2002.3,812.3L1978.7,829.8L1956.4,838.7L1938.6,838.7L1916.3,829.8L1892.7,812.3L1869.5,786.7L1848.3,753.7L1829.9,714.5L1815.4,670.2L1805.4,622L1800.2,571.6L1800.3,519.2L1805.6,469.7L1816.2,423.6L1831.3,381.8L1850.2,345.2L1872,314.7L1895.3,291L1918.7,274.9L1939.8,266.8L1955.2,266.8L1976.3,274.9L1999.7,291L2023,314.7L2044.8,345.2L2063.7,381.8L2078.8,423.6L2089.4,469.7L2094.7,519.2Z" fill="#00009b"/>
<path d="M2092,571.2L2086.9,620.9L2076.9,668.3L2062.5,712L2044.4,750.7L2023.4,783.1L2000.7,808.3L1977.5,825.6L1955.9,834.4L1939.1,834.4L1917.5,825.6L1894.3,808.3L1871.6,783.1L1850.6,750.7L1832.5,712L1818.1,668.3L1808.1,620.9L1803,571.2L1803,519.9L1808.4,471.2L1818.9,425.9L1834,384.7L1852.8,348.6L1874.4,318.5L1897.3,295.2L1920.1,279.3L1940.3,271.2L1954.7,271.2L1974.9,279.3L1997.7,295.2L2020.6,318.5L2042.2,348.6L2061,384.7L2076.1,425.9L2086.6,471.2L2092,519.9Z" fill="#0000a4"/>
<path d="M2089.4,570.9L2084.3,619.9L2074.4,666.7L2060.1,709.7L2042.1,747.9L2021.4,779.9L1999,804.7L1976.4,821.8L1955.5,830.4L1939.5,830.4L1918.6,821.8L1896,804.7L1873.6,779.9L1852.9,747.9L1834.9,709.7L1820.6,666.7L1810.7,619.9L1805.6,570.9L1805.6,520.5L1811,472.7L1821.6,428.1L1836.6,387.4L1855.3,351.8L1876.7,322.1L1899.3,299L1921.5,283.3L1940.9,275.3L1954.1,275.3L1973.5,283.3L1995.7,299L2018.3,322.1L2039.7,351.8L2058.4,387.4L2073.4,428.1L2084,472.7L2089.4,520.5Z" fill="#0000ad"/>
<path d="M2086.9,570.6L2081.8,619L2072,665.2L2057.8,707.7L2040,745.4L2019.5,777L1997.5,801.6L1975.3,818.4L1955.1,826.9L1939.9,826.9L1919.7,818.4L1897.5,801.6L1875.5,777L1855,745.4L1837.2,707.7L1823,665.2L1813.2,619L1808.1,570.6L1808.2,521L1813.6,474L1824.1,430L1839.1,389.9L1857.8,354.7L1878.9,325.2L1901.2,302.4L1922.8,286.9L1941.4,279L1953.6,279L1972.2,286.9L1993.8,302.4L2016.1,325.2L2037.2,354.7L2055.9,389.9L2070.9,430L2081.4,474L2086.8,521Z" fill="#0000b6"/>
<path d="M2084.3,570.3L2079.3,618.2L2069.5,663.9L2055.4,706L2037.8,743.2L2017.6,774.5L1995.9,798.8L1974.2,815.4L1954.6,823.9L1940.4,823.9L1920.8,815.4L1899.1,798.8L1877.4,774.5L1857.2,743.2L1839.6,706L1825.5,663.9L1815.7,618.2L1810.7,570.3L1810.7,521.5L1816.1,475.2L1826.7,431.7L1841.7,392L1860.2,357.2L1881.2,328L1903.1,305.4L1924.1,290L1941.9,282.2L1953.1,282.2L1970.9,290L1991.9,305.4L2013.8,328L2034.8,357.2L2053.3,392L2068.3,431.7L2078.9,475.2L2084.3,521.5Z" fill="#0000bf"/>
<path d="M2081.8,570.1L2076.8,617.5L2067.1,662.7L2053.1,704.4L2035.7,741.2L2015.7,772.2L1994.4,796.2L1973.2,812.7L1954.2,821L1940.8,821L1921.8,812.7L1900.6,796.2L1879.3,772.2L1859.3,741.2L1841.9,704.4L1827.9,662.7L1818.2,617.5L1813.2,570.1L1813.2,522L1818.7,476.3L1829.2,433.3L1844.2,394L1862.7,359.4L1883.4,330.5L1904.9,308.1L1925.4,292.8L1942.4,285.1L1952.6,285.1L1969.6,292.8L1990.1,308.1L2011.6,330.5L2032.3,359.4L2050.8,394L2065.8,433.3L2076.3,476.3L2081.8,522Z" fill="#0000c8"/>
<path d="M2079.3,569.8L2074.4,616.8L2064.7,661.6L2050.8,702.9L2033.5,739.4L2013.8,770L1992.8,793.8L1972.1,810.2L1953.9,818.4L1941.1,818.4L1922.9,810.2L1902.2,793.8L1881.2,770L1861.5,739.4L1844.2,702.9L1830.3,661.6L1820.6,616.8L1815.7,569.8L1815.7,522.4L1821.2,477.3L1831.7,434.8L1846.7,395.8L1865.1,361.5L1885.6,332.9L1906.8,310.6L1926.7,295.4L1942.8,287.7L1952.2,287.7L1968.3,295.4L1988.2,310.6L2009.4,332.9L2029.9,361.5L2048.3,395.8L2063.3,434.8L2073.8,477.3L2079.3,522.4Z" fill="#0000d1"/>
<path d="M2076.9,569.6L2072,616.1L2062.4,660.5L2048.6,701.4L2031.5,737.6L2012,768L1991.4,791.6L1971.1,807.8L1953.5,816L1941.5,816L1923.9,807.8L1903.6,791.6L1883,768L1863.5,737.6L1846.4,701.4L1832.6,660.5L1823,616.1L1818.1,569.6L1818.2,522.8L1823.6,478.3L1834.2,436.2L1849.1,397.6L1867.5,363.5L1887.8,335.1L1908.6,313L1927.9,297.9L1943.2,290.2L1951.8,290.2L1967.1,297.9L1986.4,313L2007.2,335.1L2027.5,363.5L2045.9,397.6L2060.8,436.2L2071.4,478.3L2076.8,522.8Z" fill="#0000db"/>
<path d="M2074.7,569.4L2069.7,615.5L2060.2,659.5L2046.5,700.1L2029.5,736L2010.3,766.1L1990,789.5L1970.2,805.5L1953.1,813.7L1941.9,813.7L1924.8,805.5L1905,789.5L1884.7,766.1L1865.5,736L1848.5,700.1L1834.8,659.5L1825.3,615.5L1820.3,569.4L1820.4,523.3L1825.9,479.2L1836.5,437.6L1851.5,399.3L1869.7,365.5L1889.9,337.3L1910.3,315.3L1929.1,300.3L1943.6,292.7L1951.4,292.7L1965.9,300.3L1984.7,315.3L2005.1,337.3L2025.3,365.5L2043.5,399.3L2058.5,437.6L2069.1,479.2L2074.6,523.3Z" fill="#0000e4"/>
<path d="M2072.6,569.2L2067.7,615L2058.1,658.6L2044.6,698.8L2027.7,734.4L2008.6,764.2L1988.7,787.5L1969.3,803.3L1952.8,811.4L1942.2,811.4L1925.7,803.3L1906.3,787.5L1886.4,764.2L1867.3,734.4L1850.4,698.8L1836.9,658.6L1827.3,615L1822.4,569.2L1822.5,523.7L1828,480.2L1838.7,439L1853.7,401L1871.9,367.6L1891.9,339.5L1911.9,317.7L1930.2,302.8L1944,295.2L1951,295.2L1964.8,302.8L1983.1,317.7L2003.1,339.5L2023.1,367.6L2041.3,401L2056.3,439L2067,480.2L2072.5,523.7Z" fill="#0000ed"/>
<path d="M2070.7,569L2065.8,614.4L2056.3,657.7L2042.8,697.5L2026,732.8L2007.1,762.4L1987.4,785.5L1968.5,801.2L1952.5,809.2L1942.5,809.2L1926.5,801.2L1907.6,785.5L1887.9,762.4L1869,732.8L1852.2,697.5L1838.7,657.7L1829.2,614.4L1824.3,569L1824.4,524.1L1829.9,481.2L1840.7,440.4L1855.7,402.9L1873.9,369.7L1893.7,341.9L1913.5,320.3L1931.2,305.5L1944.3,297.9L1950.7,297.9L1963.8,305.5L1981.5,320.3L2001.3,341.9L2021.1,369.7L2039.3,402.9L2054.3,440.4L2065.1,481.2L2070.6,524.1Z" fill="#0000f6"/>
<ellipse cx="1947.5" cy="226" rx="46" ry="9" fill="#000090" opacity="0.4"/>
<ellipse cx="1947.5" cy="149" rx="44" ry="9" fill="#000040" opacity="0.4"/>
</g>
<g filter="url(#bs)">
<path d="M2069.4,564.7L2066.1,601.7L2059.6,637.6L2050.3,671.6L2038.4,703L2024.5,731.3L2009.3,755.7L1993.4,776L1977.6,791.5L1963,802L1951.1,807.3L1943.9,807.3L1932,802L1917.4,791.5L1901.6,776L1885.7,755.7L1870.5,731.3L1856.6,703L1844.7,671.6L1835.4,637.6L1828.9,601.7L1825.6,564.7L1825.7,528.5L1829.5,493.7L1836.9,460L1847.4,428.1L1860.6,398.6L1875.7,372.1L1891.9,349.1L1908.1,330.1L1923.2,315.5L1936.2,305.6L1945.4,300.6L1949.6,300.6L1958.8,305.6L1971.8,315.5L1986.9,330.1L2003.1,349.1L2019.3,372.1L2034.4,398.6L2047.6,428.1L2058.1,460L2065.5,493.7L2069.3,528.5Z" fill="#0000ff"/>
<path d="M2067.2,564.4L2064,600.9L2057.6,636.3L2048.4,669.9L2036.8,700.9L2023.1,728.8L2008.1,752.9L1992.5,772.9L1977,788.2L1962.7,798.6L1951,803.8L1944,803.8L1932.3,798.6L1918,788.2L1902.5,772.9L1886.9,752.9L1871.9,728.8L1858.2,700.9L1846.6,669.9L1837.4,636.3L1831,600.9L1827.8,564.4L1827.8,528.9L1831.5,494.9L1838.7,462L1849.1,430.8L1862,401.9L1876.8,376L1892.6,353.6L1908.5,335L1923.4,320.8L1936.2,311.1L1945.4,306.2L1949.6,306.2L1958.8,311.1L1971.6,320.8L1986.5,335L2002.4,353.6L2018.2,376L2033,401.9L2045.9,430.8L2056.3,462L2063.5,494.9L2067.2,528.9Z" fill="#000eff"/>
<path d="M2065.2,564.2L2062.1,600.2L2055.8,635.1L2046.7,668.2L2035.2,698.9L2021.8,726.4L2007,750.2L1991.7,769.9L1976.4,785L1962.4,795.2L1951,800.4L1944,800.4L1932.6,795.2L1918.6,785L1903.3,769.9L1888,750.2L1873.2,726.4L1859.8,698.9L1848.3,668.2L1839.2,635.1L1832.9,600.2L1829.8,564.2L1829.8,529.3L1833.4,496.3L1840.5,464.3L1850.6,433.9L1863.2,405.8L1877.7,380.6L1893.2,358.7L1908.8,340.7L1923.6,326.8L1936.3,317.4L1945.4,312.7L1949.6,312.7L1958.7,317.4L1971.4,326.8L1986.2,340.7L2001.8,358.7L2017.3,380.6L2031.8,405.8L2044.4,433.9L2054.5,464.3L2061.6,496.3L2065.2,529.3Z" fill="#001cff"/>
<path d="M2063.4,564L2060.2,599.5L2054.1,634L2045.1,666.6L2033.8,696.9L2020.6,724L2006,747.5L1990.9,766.9L1975.9,781.9L1962.1,792L1950.9,797.1L1944.1,797.1L1932.9,792L1919.1,781.9L1904.1,766.9L1889,747.5L1874.4,724L1861.2,696.9L1849.9,666.6L1840.9,634L1834.8,599.5L1831.6,564L1831.7,529.8L1835.2,497.8L1842.1,466.7L1852,437.2L1864.4,410L1878.6,385.5L1893.8,364.3L1909.2,346.8L1923.7,333.3L1936.3,324.2L1945.3,319.6L1949.7,319.6L1958.7,324.2L1971.3,333.3L1985.8,346.8L2001.2,364.3L2016.4,385.5L2030.6,410L2043,437.2L2052.9,466.7L2059.8,497.8L2063.3,529.8Z" fill="#002aff"/>
<path d="M2061.6,563.7L2058.5,598.8L2052.4,632.8L2043.6,665.1L2032.4,694.9L2019.4,721.7L2005.1,744.9L1990.1,764.1L1975.4,778.8L1961.8,788.8L1950.8,793.8L1944.2,793.8L1933.2,788.8L1919.6,778.8L1904.9,764.1L1889.9,744.9L1875.6,721.7L1862.6,694.9L1851.4,665.1L1842.6,632.8L1836.5,598.8L1833.4,563.7L1833.4,530.3L1836.9,499.2L1843.6,469.1L1853.3,440.6L1865.5,414.2L1879.4,390.5L1894.4,369.9L1909.5,353L1923.8,339.9L1936.3,331.1L1945.3,326.6L1949.7,326.6L1958.7,331.1L1971.2,339.9L1985.5,353L2000.6,369.9L2015.6,390.5L2029.5,414.2L2041.7,440.6L2051.4,469.1L2058.1,499.2L2061.6,530.3Z" fill="#0039ff"/>
<path d="M2060,563.5L2056.9,598.1L2050.9,631.7L2042.2,663.5L2031.2,693L2018.3,719.4L2004.2,742.3L1989.5,761.3L1974.9,775.8L1961.5,785.6L1950.7,790.6L1944.3,790.6L1933.5,785.6L1920.1,775.8L1905.5,761.3L1890.8,742.3L1876.7,719.4L1863.8,693L1852.8,663.5L1844.1,631.7L1838.1,598.1L1835,563.5L1835,530.8L1838.4,500.7L1845.1,471.5L1854.6,443.8L1866.5,418.2L1880.2,395.2L1894.9,375.3L1909.8,358.9L1923.9,346.2L1936.3,337.7L1945.3,333.3L1949.7,333.3L1958.7,337.7L1971.1,346.2L1985.2,358.9L2000.1,375.3L2014.8,395.2L2028.5,418.2L2040.4,443.8L2049.9,471.5L2056.6,500.7L2060,530.8Z" fill="#0047ff"/>
<path d="M2058.5,563.3L2055.4,597.5L2049.5,630.6L2040.9,662L2030,691.1L2017.3,717.2L2003.3,739.8L1988.8,758.5L1974.5,772.8L1961.3,782.6L1950.7,787.5L1944.3,787.5L1933.7,782.6L1920.5,772.8L1906.2,758.5L1891.7,739.8L1877.7,717.2L1865,691.1L1854.1,662L1845.5,630.6L1839.6,597.5L1836.5,563.3L1836.6,531.2L1839.9,502L1846.4,473.6L1855.7,446.7L1867.4,421.9L1880.9,399.5L1895.4,380.2L1910.1,364.2L1924,351.9L1936.3,343.6L1945.3,339.4L1949.7,339.4L1958.7,343.6L1971,351.9L1984.9,364.2L1999.6,380.2L2014.1,399.5L2027.6,421.9L2039.3,446.7L2048.6,473.6L2055.1,502L2058.4,531.2Z" fill="#0055ff"/>
<path d="M2057,563.1L2054,596.8L2048.1,629.5L2039.6,660.5L2028.9,689.2L2016.3,715L2002.5,737.3L1988.2,755.8L1974.1,769.9L1961.1,779.6L1950.6,784.4L1944.4,784.4L1933.9,779.6L1920.9,769.9L1906.8,755.8L1892.5,737.3L1878.7,715L1866.1,689.2L1855.4,660.5L1846.9,629.5L1841,596.8L1838,563.1L1838,531.6L1841.3,503L1847.7,475.4L1856.8,449.2L1868.3,424.9L1881.5,403.1L1895.8,384.2L1910.3,368.6L1924.1,356.7L1936.3,348.5L1945.2,344.4L1949.8,344.4L1958.7,348.5L1970.9,356.7L1984.7,368.6L1999.2,384.2L2013.5,403.1L2026.7,424.9L2038.2,449.2L2047.3,475.4L2053.7,503L2057,531.6Z" fill="#0063ff"/>
<path d="M2055.6,562.8L2052.7,596.2L2046.9,628.5L2038.4,659.1L2027.8,687.4L2015.4,712.9L2001.8,734.9L1987.6,753.1L1973.7,767.1L1960.8,776.6L1950.5,781.4L1944.5,781.4L1934.2,776.6L1921.3,767.1L1907.4,753.1L1893.2,734.9L1879.6,712.9L1867.2,687.4L1856.6,659.1L1848.1,628.5L1842.3,596.2L1839.4,562.8L1839.4,531.9L1842.6,503.8L1848.9,476.7L1857.9,451L1869.1,427.2L1882.2,405.8L1896.2,387.3L1910.5,372L1924.2,360.2L1936.2,352.2L1945.2,348.2L1949.8,348.2L1958.8,352.2L1970.8,360.2L1984.5,372L1998.8,387.3L2012.8,405.8L2025.9,427.2L2037.1,451L2046.1,476.7L2052.4,503.8L2055.6,531.9Z" fill="#0071ff"/>
<path d="M2054.3,562.6L2051.4,595.5L2045.6,627.4L2037.3,657.7L2026.8,685.6L2014.5,710.7L2001,732.5L1987,750.5L1973.3,764.3L1960.6,773.7L1950.5,778.4L1944.5,778.4L1934.4,773.7L1921.7,764.3L1908,750.5L1894,732.5L1880.5,710.7L1868.2,685.6L1857.7,657.7L1849.4,627.4L1843.6,595.5L1840.7,562.6L1840.7,532.1L1843.9,504.5L1850,477.8L1858.8,452.5L1869.9,429.1L1882.8,408.1L1896.6,389.8L1910.7,374.8L1924.3,363.2L1936.2,355.4L1945.2,351.4L1949.8,351.4L1958.8,355.4L1970.7,363.2L1984.3,374.8L1998.4,389.8L2012.2,408.1L2025.1,429.1L2036.2,452.5L2045,477.8L2051.1,504.5L2054.3,532.1Z" fill="#0080ff"/>
<path d="M2053.1,562.4L2050.2,594.9L2044.5,626.4L2036.2,656.2L2025.8,683.8L2013.7,708.6L2000.3,730.1L1986.5,747.9L1972.9,761.5L1960.4,770.8L1950.4,775.4L1944.6,775.4L1934.6,770.8L1922.1,761.5L1908.5,747.9L1894.7,730.1L1881.3,708.6L1869.2,683.8L1858.8,656.2L1850.5,626.4L1844.8,594.9L1841.9,562.4L1842,532.3L1845.1,505.2L1851.1,478.8L1859.8,453.9L1870.7,430.8L1883.3,410.1L1897,392.2L1910.9,377.3L1924.3,366L1936.2,358.2L1945.2,354.3L1949.8,354.3L1958.8,358.2L1970.7,366L1984.1,377.3L1998,392.2L2011.7,410.1L2024.3,430.8L2035.2,453.9L2043.9,478.8L2049.9,505.2L2053,532.3Z" fill="#008eff"/>
<path d="M2051.8,562.2L2049,594.3L2043.3,625.4L2035.2,654.8L2024.9,682.1L2012.8,706.6L1999.7,727.8L1986,745.3L1972.5,758.8L1960.2,767.9L1950.4,772.5L1944.6,772.5L1934.8,767.9L1922.5,758.8L1909,745.3L1895.3,727.8L1882.2,706.6L1870.1,682.1L1859.8,654.8L1851.7,625.4L1846,594.3L1843.2,562.2L1843.2,532.5L1846.2,505.7L1852.1,479.8L1860.7,455.2L1871.4,432.4L1883.9,412L1897.3,394.3L1911.1,379.7L1924.4,368.4L1936.2,360.8L1945.1,357L1949.9,357L1958.8,360.8L1970.6,368.4L1983.9,379.7L1997.7,394.3L2011.1,412L2023.6,432.4L2034.3,455.2L2042.9,479.8L2048.8,505.7L2051.8,532.5Z" fill="#009cff"/>
<path d="M2050.7,562L2047.8,593.7L2042.2,624.3L2034.1,653.4L2023.9,680.4L2012,704.5L1999,725.5L1985.5,742.8L1972.2,756.1L1960,765.1L1950.3,769.6L1944.7,769.6L1935,765.1L1922.8,756.1L1909.5,742.8L1896,725.5L1883,704.5L1871.1,680.4L1860.9,653.4L1852.8,624.3L1847.2,593.7L1844.3,562L1844.4,532.7L1847.3,506.2L1853.2,480.6L1861.6,456.3L1872.2,433.9L1884.4,413.7L1897.7,396.2L1911.3,381.8L1924.4,370.7L1936.2,363.2L1945.1,359.4L1949.9,359.4L1958.8,363.2L1970.6,370.7L1983.7,381.8L1997.3,396.2L2010.6,413.7L2022.8,433.9L2033.4,456.3L2041.8,480.6L2047.7,506.2L2050.6,532.7Z" fill="#00aaff"/>
<path d="M2049.5,561.8L2046.7,593L2041.1,623.3L2033.1,652.1L2023,678.6L2011.2,702.5L1998.3,723.2L1985,740.2L1971.8,753.4L1959.8,762.3L1950.3,766.7L1944.7,766.7L1935.2,762.3L1923.2,753.4L1910,740.2L1896.7,723.2L1883.8,702.5L1872,678.6L1861.9,652.1L1853.9,623.3L1848.3,593L1845.5,561.8L1845.5,532.8L1848.5,506.7L1854.2,481.4L1862.5,457.4L1872.9,435.2L1884.9,415.3L1898,398L1911.5,383.8L1924.5,372.8L1936.1,365.4L1945.1,361.6L1949.9,361.6L1958.9,365.4L1970.5,372.8L1983.5,383.8L1997,398L2010.1,415.3L2022.1,435.2L2032.5,457.4L2040.8,481.4L2046.5,506.7L2049.5,532.8Z" fill="#00b8ff"/>
<path d="M2048.3,561.6L2045.5,592.4L2040.1,622.3L2032.1,650.7L2022.1,676.9L2010.5,700.5L1997.7,720.9L1984.5,737.7L1971.5,750.7L1959.7,759.5L1950.2,763.9L1944.8,763.9L1935.3,759.5L1923.5,750.7L1910.5,737.7L1897.3,720.9L1884.5,700.5L1872.9,676.9L1862.9,650.7L1854.9,622.3L1849.5,592.4L1846.7,561.6L1846.7,533L1849.6,507.2L1855.2,482.2L1863.3,458.4L1873.6,436.5L1885.5,416.8L1898.4,399.7L1911.7,385.6L1924.6,374.8L1936.1,367.5L1945.1,363.8L1949.9,363.8L1958.9,367.5L1970.4,374.8L1983.3,385.6L1996.6,399.7L2009.5,416.8L2021.4,436.5L2031.7,458.4L2039.8,482.2L2045.4,507.2L2048.3,533Z" fill="#00c6ff"/>
<path d="M2047.2,561.4L2044.4,591.8L2039,621.3L2031.1,649.3L2021.2,675.2L2009.7,698.4L1997.1,718.6L1984,735.2L1971.2,748L1959.5,756.7L1950.2,761L1944.8,761L1935.5,756.7L1923.8,748L1911,735.2L1897.9,718.6L1885.3,698.4L1873.8,675.2L1863.9,649.3L1856,621.3L1850.6,591.8L1847.8,561.4L1847.8,533.1L1850.7,507.6L1856.2,482.9L1864.2,459.4L1874.3,437.8L1886,418.3L1898.7,401.4L1911.9,387.5L1924.6,376.8L1936.1,369.5L1945,365.9L1950,365.9L1958.9,369.5L1970.4,376.8L1983.1,387.5L1996.3,401.4L2009,418.3L2020.7,437.8L2030.8,459.4L2038.8,482.9L2044.3,507.6L2047.2,533.1Z" fill="#00d5ff"/>
<path d="M2046,561.2L2043.3,591.2L2037.9,620.3L2030.1,647.9L2020.3,673.5L2008.9,696.4L1996.4,716.3L1983.5,732.7L1970.8,745.3L1959.3,753.9L1950.1,758.2L1944.9,758.2L1935.7,753.9L1924.2,745.3L1911.5,732.7L1898.6,716.3L1886.1,696.4L1874.7,673.5L1864.9,647.9L1857.1,620.3L1851.7,591.2L1849,561.2L1849,533.3L1851.8,508.1L1857.2,483.6L1865.1,460.5L1875,439L1886.6,419.8L1899.1,403.1L1912.1,389.3L1924.7,378.8L1936.1,371.6L1945,368L1950,368L1958.9,371.6L1970.3,378.8L1982.9,389.3L1995.9,403.1L2008.4,419.8L2020,439L2029.9,460.5L2037.8,483.6L2043.2,508.1L2046,533.3Z" fill="#00e3ff"/>
<path d="M2044.8,561L2042.1,590.6L2036.8,619.3L2029.1,646.6L2019.4,671.8L2008.1,694.4L1995.7,714L1983,730.2L1970.5,742.6L1959.1,751.1L1950.1,755.3L1944.9,755.3L1935.9,751.1L1924.5,742.6L1912,730.2L1899.3,714L1886.9,694.4L1875.6,671.8L1865.9,646.6L1858.2,619.3L1852.9,590.6L1850.2,561L1850.2,533.4L1852.9,508.5L1858.3,484.4L1866,461.5L1875.8,440.3L1887.1,421.3L1899.5,404.9L1912.3,391.3L1924.8,380.8L1936.1,373.7L1945,370.1L1950,370.1L1958.9,373.7L1970.2,380.8L1982.7,391.3L1995.5,404.9L2007.9,421.3L2019.2,440.3L2029,461.5L2036.7,484.4L2042.1,508.5L2044.8,533.4Z" fill="#00f1ff"/>
<path d="M2043.6,560.8L2040.9,590L2035.6,618.3L2028,645.2L2018.4,670.1L2007.3,692.4L1995.1,711.7L1982.5,727.7L1970.1,739.9L1958.9,748.3L1950,752.5L1945,752.5L1936.1,748.3L1924.9,739.9L1912.5,727.7L1899.9,711.7L1887.7,692.4L1876.6,670.1L1867,645.2L1859.4,618.3L1854.1,590L1851.4,560.8L1851.4,533.6L1854.1,509L1859.4,485.2L1867,462.6L1876.6,441.7L1887.7,423L1899.9,406.7L1912.5,393.3L1924.9,383L1936.1,376L1945,372.4L1950,372.4L1958.9,376L1970.1,383L1982.5,393.3L1995.1,406.7L2007.3,423L2018.4,441.7L2028,462.6L2035.6,485.2L2040.9,509L2043.6,533.6Z" fill="#00ffff"/>
<path d="M2041.9,560.5L2039.2,589.2L2034.1,617L2026.6,643.4L2017.2,667.7L2006.2,689.6L1994.2,708.6L1981.8,724.3L1969.7,736.3L1958.7,744.5L1950,748.6L1945,748.6L1936.3,744.5L1925.3,736.3L1913.2,724.3L1900.8,708.6L1888.8,689.6L1877.8,667.7L1868.4,643.4L1860.9,617L1855.8,589.2L1853.1,560.5L1853.1,533.8L1855.7,509.7L1860.8,486.3L1868.2,464.1L1877.6,443.6L1888.5,425.2L1900.4,409.3L1912.8,396.1L1925,386L1936.1,379.1L1944.9,375.6L1950.1,375.6L1958.9,379.1L1970,386L1982.2,396.1L1994.6,409.3L2006.5,425.2L2017.4,443.6L2026.8,464.1L2034.2,486.3L2039.3,509.7L2041.9,533.8Z" fill="#00ffe6"/>
<path d="M2040.2,560.2L2037.6,588.4L2032.6,615.7L2025.2,641.5L2016,665.5L2005.2,687L1993.4,705.6L1981.2,721L1969.3,732.8L1958.5,740.8L1949.9,744.8L1945.1,744.8L1936.5,740.8L1925.7,732.8L1913.8,721L1901.6,705.6L1889.8,687L1879,665.5L1869.8,641.5L1862.4,615.7L1857.4,588.4L1854.8,560.2L1854.8,534L1857.3,510.4L1862.3,487.4L1869.5,465.6L1878.6,445.5L1889.2,427.4L1900.9,411.8L1913.1,398.8L1925,388.9L1936,382.1L1944.9,378.7L1950.1,378.7L1959,382.1L1970,388.9L1981.9,398.8L1994.1,411.8L2005.8,427.4L2016.4,445.5L2025.5,465.6L2032.7,487.4L2037.7,510.4L2040.2,534Z" fill="#00ffcc"/>
<path d="M2038.6,560L2036.1,587.6L2031.1,614.4L2023.9,639.7L2014.8,663.2L2004.2,684.3L1992.6,702.6L1980.7,717.7L1968.9,729.3L1958.3,737.1L1949.9,741.1L1945.1,741.1L1936.7,737.1L1926.1,729.3L1914.3,717.7L1902.4,702.6L1890.8,684.3L1880.2,663.2L1871.1,639.7L1863.9,614.4L1858.9,587.6L1856.4,560L1856.4,534.3L1858.9,511L1863.7,488.5L1870.7,467.1L1879.6,447.3L1890,429.6L1901.4,414.2L1913.3,401.5L1925.1,391.7L1936,385.1L1944.8,381.8L1950.2,381.8L1959,385.1L1969.9,391.7L1981.7,401.5L1993.6,414.2L2005,429.6L2015.4,447.3L2024.3,467.1L2031.3,488.5L2036.1,511L2038.6,534.3Z" fill="#00ffb2"/>
<path d="M2037,559.7L2034.5,586.8L2029.6,613.1L2022.5,638L2013.6,661L2003.2,681.7L1991.8,699.6L1980.1,714.5L1968.6,725.8L1958.1,733.5L1949.9,737.4L1945.1,737.4L1936.9,733.5L1926.4,725.8L1914.9,714.5L1903.2,699.6L1891.8,681.7L1881.4,661L1872.5,638L1865.4,613.1L1860.5,586.8L1858,559.7L1858,534.5L1860.4,511.6L1865.1,489.5L1871.9,468.5L1880.6,449.2L1890.7,431.7L1901.9,416.6L1913.6,404.2L1925.2,394.6L1935.9,388.1L1944.8,384.8L1950.2,384.8L1959.1,388.1L1969.8,394.6L1981.4,404.2L1993.1,416.6L2004.3,431.7L2014.4,449.2L2023.1,468.5L2029.9,489.5L2034.6,511.6L2037,534.5Z" fill="#00ff99"/>
<path d="M2035.5,559.4L2033,586L2028.2,611.8L2021.3,636.2L2012.5,658.8L2002.2,679.1L1991.1,696.7L1979.5,711.2L1968.2,722.4L1957.9,730L1949.8,733.8L1945.2,733.8L1937.1,730L1926.8,722.4L1915.5,711.2L1903.9,696.7L1892.8,679.1L1882.5,658.8L1873.7,636.2L1866.8,611.8L1862,586L1859.5,559.4L1859.5,534.7L1861.8,512.3L1866.4,490.6L1873.1,470L1881.5,451L1891.5,433.9L1902.4,419L1913.8,406.8L1925.3,397.4L1935.9,391L1944.7,387.8L1950.3,387.8L1959.1,391L1969.7,397.4L1981.2,406.8L1992.6,419L2003.5,433.9L2013.5,451L2021.9,470L2028.6,490.6L2033.2,512.3L2035.5,534.7Z" fill="#00ff80"/>
<path d="M2034,559.2L2031.6,585.2L2026.8,610.5L2020,634.5L2011.3,656.6L2001.3,676.6L1990.3,693.8L1979,708L1967.9,719L1957.8,726.4L1949.8,730.2L1945.2,730.2L1937.2,726.4L1927.1,719L1916,708L1904.7,693.8L1893.7,676.6L1883.7,656.6L1875,634.5L1868.2,610.5L1863.4,585.2L1861,559.2L1861,534.9L1863.3,512.9L1867.8,491.6L1874.3,471.4L1882.5,452.8L1892.2,436L1902.9,421.5L1914.1,409.5L1925.3,400.2L1935.9,394L1944.7,390.8L1950.3,390.8L1959.1,394L1969.7,400.2L1980.9,409.5L1992.1,421.5L2002.8,436L2012.5,452.8L2020.7,471.4L2027.2,491.6L2031.7,512.9L2034,534.9Z" fill="#00ff66"/>
<path d="M2032.5,558.9L2030.1,584.5L2025.5,609.3L2018.7,632.7L2010.3,654.5L2000.4,674L1989.6,690.9L1978.4,704.9L1967.5,715.6L1957.6,722.9L1949.7,726.5L1945.3,726.5L1937.4,722.9L1927.5,715.6L1916.6,704.9L1905.4,690.9L1894.6,674L1884.7,654.5L1876.3,632.7L1869.5,609.3L1864.9,584.5L1862.5,558.9L1862.5,535.1L1864.7,513.6L1869.1,492.7L1875.4,472.9L1883.4,454.6L1892.9,438.2L1903.4,423.9L1914.4,412.1L1925.4,403.1L1935.9,397L1944.6,393.9L1950.4,393.9L1959.1,397L1969.6,403.1L1980.6,412.1L1991.6,423.9L2002.1,438.2L2011.6,454.6L2019.6,472.9L2025.9,492.7L2030.3,513.6L2032.5,535.1Z" fill="#00ff4d"/>
<path d="M2031,558.7L2028.7,583.7L2024.1,608L2017.5,631L2009.2,652.3L1999.5,671.4L1988.9,688L1977.9,701.7L1967.2,712.2L1957.4,719.3L1949.7,722.9L1945.3,722.9L1937.6,719.3L1927.8,712.2L1917.1,701.7L1906.1,688L1895.5,671.4L1885.8,652.3L1877.5,631L1870.9,608L1866.3,583.7L1864,558.7L1863.9,535.3L1866.1,514.2L1870.3,493.8L1876.5,474.4L1884.4,456.5L1893.6,440.3L1903.8,426.4L1914.7,414.9L1925.5,406L1935.8,400L1944.6,397L1950.4,397L1959.2,400L1969.5,406L1980.3,414.9L1991.2,426.4L2001.4,440.3L2010.6,456.5L2018.5,474.4L2024.7,493.8L2028.9,514.2L2031.1,535.3Z" fill="#00ff33"/>
<path d="M2029.6,558.4L2027.3,582.9L2022.8,606.7L2016.3,629.2L2008.1,650.1L1998.6,668.8L1988.2,685.1L1977.4,698.4L1966.8,708.7L1957.2,715.7L1949.7,719.3L1945.3,719.3L1937.8,715.7L1928.2,708.7L1917.6,698.4L1906.8,685.1L1896.4,668.8L1886.9,650.1L1878.7,629.2L1872.2,606.7L1867.7,582.9L1865.4,558.4L1865.4,535.6L1867.5,514.9L1871.6,494.9L1877.6,475.9L1885.3,458.4L1894.3,442.6L1904.3,428.9L1914.9,417.6L1925.6,409L1935.8,403.1L1944.6,400.1L1950.4,400.1L1959.2,403.1L1969.4,409L1980.1,417.6L1990.7,428.9L2000.7,442.6L2009.7,458.4L2017.4,475.9L2023.4,494.9L2027.5,514.9L2029.6,535.6Z" fill="#00ff1a"/>
<path d="M2028.2,558.1L2026,582.1L2021.5,605.4L2015.2,627.5L2007.1,647.9L1997.7,666.2L1987.5,682.1L1976.9,695.2L1966.5,705.3L1957.1,712.1L1949.6,715.6L1945.4,715.6L1937.9,712.1L1928.5,705.3L1918.1,695.2L1907.5,682.1L1897.3,666.2L1887.9,647.9L1879.8,627.5L1873.5,605.4L1869,582.1L1866.8,558.1L1866.8,535.8L1868.8,515.6L1872.8,496L1878.7,477.5L1886.2,460.3L1895,444.9L1904.8,431.5L1915.2,420.5L1925.7,412L1935.8,406.3L1944.5,403.4L1950.5,403.4L1959.2,406.3L1969.3,412L1979.8,420.5L1990.2,431.5L2000,444.9L2008.8,460.3L2016.3,477.5L2022.2,496L2026.2,515.6L2028.2,535.8Z" fill="#00ff00"/>
<path d="M2014.7,555.3L2012.8,573.6L2009.2,591.4L2003.8,608.2L1997.1,623.8L1989.3,637.8L1980.8,650L1972,660L1963.3,667.7L1955.5,672.9L1949.3,675.6L1945.7,675.6L1939.5,672.9L1931.7,667.7L1923,660L1914.2,650L1905.7,637.8L1897.9,623.8L1891.2,608.2L1885.8,591.4L1882.2,573.6L1880.3,555.3L1880.2,536.5L1881.7,520.4L1884.6,505.7L1888.9,492.3L1894.5,480.2L1901.1,469.5L1908.7,460.3L1917,452.4L1925.9,444.8L1934.9,436.4L1938.2,433.4L1943.1,430.2L1943.6,430L1947.5,429.2L1951.4,430L1951.9,430.2L1956.8,433.4L1960.1,436.4L1969.1,444.8L1978,452.4L1986.3,460.3L1993.9,469.5L2000.5,480.2L2006.1,492.3L2010.4,505.7L2013.3,520.4L2014.8,536.5Z" fill="#69ff00"/>
<path d="M2014.1,555.1L2012.2,573.3L2008.6,590.8L2003.3,607.4L1996.6,622.8L1988.9,636.7L1980.5,648.6L1971.7,658.5L1963.2,666.1L1955.4,671.3L1949.3,673.9L1945.7,673.9L1939.6,671.3L1931.8,666.1L1923.3,658.5L1914.5,648.6L1906.1,636.7L1898.4,622.8L1891.7,607.4L1886.4,590.8L1882.8,573.3L1880.9,555.1L1880.9,536.9L1882.4,521.1L1885.3,506.7L1889.5,493.4L1895,481.4L1901.6,470.8L1909.2,461.7L1917.4,453.8L1926.1,446.3L1935,438.3L1938.4,435.6L1943.2,432.6L1943.7,432.4L1947.5,431.6L1951.3,432.4L1951.8,432.6L1956.6,435.6L1960,438.3L1968.9,446.3L1977.6,453.8L1985.8,461.7L1993.4,470.8L2000,481.4L2005.5,493.4L2009.7,506.7L2012.6,521.1L2014.1,536.9Z" fill="#7aff00"/>
<path d="M2013.4,555L2011.6,572.9L2008,590.2L2002.7,606.7L1996.2,621.8L1988.5,635.5L1980.1,647.3L1971.5,657.1L1963,664.6L1955.3,669.7L1949.2,672.2L1945.8,672.2L1939.7,669.7L1932,664.6L1923.5,657.1L1914.9,647.3L1906.5,635.5L1898.8,621.8L1892.3,606.7L1887,590.2L1883.4,572.9L1881.6,555L1881.5,537.3L1883,521.9L1885.9,507.7L1890.1,494.6L1895.6,482.7L1902.1,472.2L1909.6,463.1L1917.8,455.3L1926.4,447.9L1935.2,440.3L1938.5,437.7L1943.3,435L1943.8,434.8L1947.5,434.1L1951.2,434.8L1951.7,435L1956.5,437.7L1959.8,440.3L1968.6,447.9L1977.2,455.3L1985.4,463.1L1992.9,472.2L1999.4,482.7L2004.9,494.6L2009.1,507.7L2012,521.9L2013.5,537.3Z" fill="#8dff00"/>
<path d="M2012.8,554.9L2011,572.6L2007.4,589.7L2002.2,605.9L1995.7,620.9L1988.1,634.4L1979.8,646.1L1971.3,655.8L1962.9,663.2L1955.2,668.2L1949.2,670.7L1945.8,670.7L1939.8,668.2L1932.1,663.2L1923.7,655.8L1915.2,646.1L1906.9,634.4L1899.3,620.9L1892.8,605.9L1887.6,589.7L1884,572.6L1882.2,554.9L1882.2,537.6L1883.6,522.6L1886.5,508.6L1890.7,495.7L1896.1,483.9L1902.6,473.4L1910,464.4L1918.2,456.6L1926.7,449.4L1935.4,442.2L1938.7,439.8L1943.4,437.3L1943.8,437.1L1947.5,436.5L1951.2,437.1L1951.6,437.3L1956.3,439.8L1959.6,442.2L1968.3,449.4L1976.8,456.6L1985,464.4L1992.4,473.4L1998.9,483.9L2004.3,495.7L2008.5,508.6L2011.4,522.6L2012.8,537.6Z" fill="#a0ff00"/>
<path d="M2012.2,554.8L2010.4,572.3L2006.8,589.2L2001.7,605.3L1995.3,620.1L1987.7,633.4L1979.5,645L1971,654.5L1962.7,661.9L1955.2,666.8L1949.2,669.3L1945.8,669.3L1939.8,666.8L1932.3,661.9L1924,654.5L1915.5,645L1907.3,633.4L1899.7,620.1L1893.3,605.3L1888.2,589.2L1884.6,572.3L1882.8,554.8L1882.8,538L1884.2,523.3L1887.1,509.5L1891.2,496.7L1896.6,485.1L1903.1,474.7L1910.5,465.6L1918.5,457.9L1927,450.9L1935.6,444L1938.8,441.8L1943.4,439.5L1943.9,439.3L1947.5,438.8L1951.1,439.3L1951.6,439.5L1956.2,441.8L1959.4,444L1968,450.9L1976.5,457.9L1984.5,465.6L1991.9,474.7L1998.4,485.1L2003.8,496.7L2007.9,509.5L2010.8,523.3L2012.2,538Z" fill="#b3ff00"/>
<path d="M2011.6,554.7L2009.8,572L2006.3,588.7L2001.2,604.6L1994.8,619.3L1987.4,632.4L1979.2,643.9L1970.8,653.3L1962.6,660.5L1955.1,665.5L1949.2,667.9L1945.8,667.9L1939.9,665.5L1932.4,660.5L1924.2,653.3L1915.8,643.9L1907.6,632.4L1900.2,619.3L1893.8,604.6L1888.7,588.7L1885.2,572L1883.4,554.7L1883.4,538.3L1884.8,524L1887.6,510.4L1891.8,497.8L1897.1,486.2L1903.6,475.8L1910.9,466.8L1918.9,459.2L1927.3,452.3L1935.8,445.8L1939,443.8L1943.5,441.7L1944,441.5L1947.5,441L1951,441.5L1951.5,441.7L1956,443.8L1959.2,445.8L1967.7,452.3L1976.1,459.2L1984.1,466.8L1991.4,475.8L1997.9,486.2L2003.2,497.8L2007.4,510.4L2010.2,524L2011.6,538.3Z" fill="#c6ff00"/>
<path d="M2011,554.6L2009.2,571.7L2005.7,588.2L2000.7,603.9L1994.4,618.4L1987,631.4L1978.9,642.7L1970.6,652L1962.4,659.2L1955,664.1L1949.2,666.5L1945.8,666.5L1940,664.1L1932.6,659.2L1924.4,652L1916.1,642.7L1908,631.4L1900.6,618.4L1894.3,603.9L1889.3,588.2L1885.8,571.7L1884,554.6L1884,538.6L1885.4,524.6L1888.2,511.3L1892.3,498.8L1897.7,487.3L1904,477L1911.3,468L1919.2,460.4L1927.5,453.7L1936,447.6L1939.1,445.7L1943.6,443.8L1944,443.7L1947.5,443.2L1951,443.7L1951.4,443.8L1955.9,445.7L1959,447.6L1967.5,453.7L1975.8,460.4L1983.7,468L1991,477L1997.3,487.3L2002.7,498.8L2006.8,511.3L2009.6,524.6L2011,538.6Z" fill="#d9ff00"/>
<path d="M2010.4,554.5L2008.6,571.4L2005.2,587.7L2000.2,603.2L1993.9,617.5L1986.6,630.3L1978.6,641.5L1970.4,650.7L1962.3,657.8L1955,662.6L1949.2,665L1945.8,665L1940,662.6L1932.7,657.8L1924.6,650.7L1916.4,641.5L1908.4,630.3L1901.1,617.5L1894.8,603.2L1889.8,587.7L1886.4,571.4L1884.6,554.5L1884.6,539L1886,525.3L1888.8,512.2L1892.9,499.8L1898.2,488.4L1904.5,478.1L1911.7,469.2L1919.6,461.6L1927.8,455.1L1936.1,449.4L1939.2,447.7L1943.7,446L1944.1,445.9L1947.5,445.4L1950.9,445.9L1951.3,446L1955.8,447.7L1958.9,449.4L1967.2,455.1L1975.4,461.6L1983.3,469.2L1990.5,478.1L1996.8,488.4L2002.1,499.8L2006.2,512.2L2009,525.3L2010.4,539Z" fill="#ecff00"/>
<path d="M2009.7,554.4L2007.9,571L2004.5,587.1L1999.6,602.4L1993.4,616.5L1986.2,629.2L1978.3,640.1L1970.1,649.2L1962.1,656.2L1954.9,660.9L1949.1,663.3L1945.9,663.3L1940.1,660.9L1932.9,656.2L1924.9,649.2L1916.7,640.1L1908.8,629.2L1901.6,616.5L1895.4,602.4L1890.5,587.1L1887.1,571L1885.3,554.4L1885.3,539.3L1886.7,526L1889.5,513L1893.5,500.8L1898.8,489.5L1905,479.3L1912.2,470.5L1919.9,462.9L1928.1,456.6L1936.3,451.3L1939.4,449.7L1943.7,448.2L1944.2,448.1L1947.5,447.7L1950.8,448.1L1951.3,448.2L1955.6,449.7L1958.7,451.3L1966.9,456.6L1975.1,462.9L1982.8,470.5L1990,479.3L1996.2,489.5L2001.5,500.8L2005.5,513L2008.3,526L2009.7,539.3Z" fill="#ffff00"/>
<path d="M2008.8,554.2L2007.1,570.5L2003.7,586.3L1998.9,601.3L1992.8,615.1L1985.7,627.5L1977.9,638.3L1969.9,647.2L1962,654L1954.8,658.7L1949.1,661L1945.9,661L1940.2,658.7L1933,654L1925.1,647.2L1917.1,638.3L1909.3,627.5L1902.2,615.1L1896.1,601.3L1891.3,586.3L1887.9,570.5L1886.2,554.2L1886.2,539.4L1887.6,526.3L1890.3,513.6L1894.3,501.6L1899.4,490.5L1905.6,480.5L1912.6,471.8L1920.3,464.4L1928.3,458.3L1936.5,453.4L1939.5,452L1943.8,450.6L1944.2,450.5L1947.5,450.2L1950.8,450.5L1951.2,450.6L1955.5,452L1958.5,453.4L1966.7,458.3L1974.7,464.4L1982.4,471.8L1989.4,480.5L1995.6,490.5L2000.7,501.6L2004.7,513.6L2007.4,526.3L2008.8,539.4Z" fill="#ffed00"/>
<path d="M2007.9,554L2006.2,570L2002.9,585.4L1998.1,600.1L1992.1,613.6L1985.1,625.8L1977.5,636.3L1969.6,645L1961.8,651.7L1954.7,656.3L1949.1,658.6L1945.9,658.6L1940.3,656.3L1933.2,651.7L1925.4,645L1917.5,636.3L1909.9,625.8L1902.9,613.6L1896.9,600.1L1892.1,585.4L1888.8,570L1887.1,554L1887.1,539.5L1888.5,526.6L1891.1,514.2L1895.1,502.3L1900.1,491.4L1906.2,481.6L1913.1,473L1920.7,465.9L1928.6,460L1936.6,455.5L1939.6,454.3L1943.8,453.1L1944.2,453L1947.5,452.7L1950.8,453L1951.2,453.1L1955.4,454.3L1958.4,455.5L1966.4,460L1974.3,465.9L1981.9,473L1988.8,481.6L1994.9,491.4L1999.9,502.3L2003.9,514.2L2006.5,526.6L2007.9,539.5Z" fill="#ffdb00"/>
<path d="M2006.9,553.9L2005.2,569.4L2002,584.5L1997.4,598.8L1991.5,612.1L1984.6,624L1977.1,634.3L1969.3,642.8L1961.6,649.3L1954.7,653.7L1949.1,656L1945.9,656L1940.3,653.7L1933.4,649.3L1925.7,642.8L1917.9,634.3L1910.4,624L1903.5,612.1L1897.6,598.8L1893,584.5L1889.8,569.4L1888.1,553.9L1888.1,539.6L1889.4,527L1892,514.7L1895.9,503.1L1900.9,492.4L1906.9,482.7L1913.6,474.3L1921,467.3L1928.8,461.7L1936.7,457.6L1939.7,456.5L1943.8,455.5L1944.3,455.4L1947.5,455.1L1950.7,455.4L1951.2,455.5L1955.3,456.5L1958.3,457.6L1966.2,461.7L1974,467.3L1981.4,474.3L1988.1,482.7L1994.1,492.4L1999.1,503.1L2003,514.7L2005.6,527L2006.9,539.6Z" fill="#ffc800"/>
<path d="M2005.9,553.7L2004.3,568.9L2001.1,583.6L1996.5,597.5L1990.8,610.4L1984,622L1976.6,632.1L1969,640.4L1961.4,646.7L1954.6,651.1L1949.1,653.3L1945.9,653.3L1940.4,651.1L1933.6,646.7L1926,640.4L1918.4,632.1L1911,622L1904.2,610.4L1898.5,597.5L1893.9,583.6L1890.7,568.9L1889.1,553.7L1889.1,539.7L1890.4,527.3L1892.9,515.3L1896.7,503.9L1901.6,493.3L1907.5,483.8L1914.2,475.6L1921.4,468.8L1929.1,463.5L1936.9,459.8L1939.8,458.8L1943.9,457.9L1944.3,457.8L1947.5,457.6L1950.7,457.8L1951.1,457.9L1955.2,458.8L1958.1,459.8L1965.9,463.5L1973.6,468.8L1980.8,475.6L1987.5,483.8L1993.4,493.3L1998.3,503.9L2002.1,515.3L2004.6,527.3L2005.9,539.7Z" fill="#ffb600"/>
<path d="M2004.9,553.5L2003.3,568.3L2000.2,582.6L1995.7,596.2L1990,608.8L1983.4,620.1L1976.2,629.8L1968.6,637.9L1961.2,644.1L1954.5,648.3L1949.1,650.5L1945.9,650.5L1940.5,648.3L1933.8,644.1L1926.4,637.9L1918.8,629.8L1911.6,620.1L1905,608.8L1899.3,596.2L1894.8,582.6L1891.7,568.3L1890.1,553.5L1890.1,539.8L1891.3,527.7L1893.9,515.8L1897.6,504.6L1902.4,494.3L1908.2,485L1914.7,476.9L1921.9,470.2L1929.4,465.1L1937,461.7L1944.3,459.9L1950.7,459.9L1958,461.7L1965.6,465.1L1973.1,470.2L1980.3,476.9L1986.8,485L1992.6,494.3L1997.4,504.6L2001.1,515.8L2003.7,527.7L2004.9,539.8Z" fill="#ffa400"/>
<path d="M2003.9,553.3L2002.3,567.7L1999.3,581.6L1994.9,594.8L1989.3,607L1982.8,618L1975.7,627.5L1968.3,635.4L1961.1,641.4L1954.4,645.5L1949.1,647.6L1945.9,647.6L1940.6,645.5L1933.9,641.4L1926.7,635.4L1919.3,627.5L1912.2,618L1905.7,607L1900.1,594.8L1895.7,581.6L1892.7,567.7L1891.1,553.3L1891.1,540L1892.3,528L1894.8,516.4L1898.5,505.4L1903.2,495.2L1908.8,486.1L1915.3,478.2L1922.3,471.6L1929.7,466.6L1937.2,463.2L1944.4,461.5L1950.6,461.5L1957.8,463.2L1965.3,466.6L1972.7,471.6L1979.7,478.2L1986.2,486.1L1991.8,495.2L1996.5,505.4L2000.2,516.4L2002.7,528L2003.9,540Z" fill="#ff9200"/>
<path d="M2002.8,553.1L2001.3,567L1998.3,580.6L1994,593.4L1988.6,605.3L1982.2,616L1975.2,625.2L1968,632.8L1960.8,638.7L1954.3,642.7L1949,644.7L1946,644.7L1940.7,642.7L1934.2,638.7L1927,632.8L1919.8,625.2L1912.8,616L1906.4,605.3L1901,593.4L1896.7,580.6L1893.7,567L1892.2,553.1L1892.1,540.1L1893.4,528.3L1895.8,516.9L1899.4,506.1L1904,496.2L1909.5,487.2L1915.8,479.4L1922.7,473L1930,468.1L1937.3,464.7L1944.4,463L1950.6,463L1957.7,464.7L1965,468.1L1972.3,473L1979.2,479.4L1985.5,487.2L1991,496.2L1995.6,506.1L1999.2,516.9L2001.6,528.3L2002.9,540.1Z" fill="#ff7f00"/>
<path d="M2001.8,552.9L2000.3,566.4L1997.4,579.6L1993.1,592L1987.8,603.5L1981.6,613.9L1974.7,622.9L1967.6,630.3L1960.6,636L1954.2,639.8L1949,641.8L1946,641.8L1940.8,639.8L1934.4,636L1927.4,630.3L1920.3,622.9L1913.4,613.9L1907.2,603.5L1901.9,592L1897.6,579.6L1894.7,566.4L1893.2,552.9L1893.2,540.2L1894.4,528.7L1896.8,517.5L1900.3,506.9L1904.8,497.1L1910.2,488.3L1916.4,480.7L1923.1,474.4L1930.3,469.5L1937.5,466.3L1944.5,464.6L1950.5,464.6L1957.5,466.3L1964.7,469.5L1971.9,474.4L1978.6,480.7L1984.8,488.3L1990.2,497.1L1994.7,506.9L1998.2,517.5L2000.6,528.7L2001.8,540.2Z" fill="#ff6d00"/>
<path d="M2000.7,552.6L1999.2,565.8L1996.4,578.5L1992.2,590.6L1987,601.8L1980.9,611.8L1974.2,620.5L1967.3,627.7L1960.4,633.2L1954.1,637L1949,638.9L1946,638.9L1940.9,637L1934.6,633.2L1927.7,627.7L1920.8,620.5L1914.1,611.8L1908,601.8L1902.8,590.6L1898.6,578.5L1895.8,565.8L1894.3,552.6L1894.3,540.3L1895.5,529L1897.8,518L1901.2,507.6L1905.7,498L1911,489.4L1917,481.9L1923.6,475.7L1930.6,471L1937.7,467.8L1944.5,466.1L1950.5,466.1L1957.3,467.8L1964.4,471L1971.4,475.7L1978,481.9L1984,489.4L1989.3,498L1993.8,507.6L1997.2,518L1999.5,529L2000.7,540.3Z" fill="#ff5b00"/>
<path d="M1999.5,552.4L1998.1,565.2L1995.3,577.5L1991.3,589.2L1986.2,600.1L1980.3,609.8L1973.7,618.2L1966.9,625.2L1960.2,630.5L1954,634.2L1949,636L1946,636L1941,634.2L1934.8,630.5L1928.1,625.2L1921.3,618.2L1914.7,609.8L1908.8,600.1L1903.7,589.2L1899.7,577.5L1896.9,565.2L1895.5,552.4L1895.4,540.4L1896.6,529.3L1898.9,518.6L1902.2,508.4L1906.5,498.9L1911.7,490.5L1917.6,483.1L1924.1,477.1L1930.9,472.4L1937.8,469.3L1944.6,467.7L1950.4,467.7L1957.2,469.3L1964.1,472.4L1970.9,477.1L1977.4,483.1L1983.3,490.5L1988.5,498.9L1992.8,508.4L1996.1,518.6L1998.4,529.3L1999.6,540.4Z" fill="#ff4900"/>
<path d="M1998.4,552.2L1997,564.6L1994.3,576.5L1990.4,587.9L1985.4,598.4L1979.6,607.8L1973.2,616L1966.5,622.7L1960,627.9L1953.9,631.4L1949,633.2L1946,633.2L1941.1,631.4L1935,627.9L1928.5,622.7L1921.8,616L1915.4,607.8L1909.6,598.4L1904.6,587.9L1900.7,576.5L1898,564.6L1896.6,552.2L1896.5,540.5L1897.7,529.6L1899.9,519.1L1903.2,509.1L1907.4,499.9L1912.4,491.6L1918.2,484.4L1924.5,478.4L1931.2,473.9L1938,470.8L1944.6,469.2L1950.4,469.2L1957,470.8L1963.8,473.9L1970.5,478.4L1976.8,484.4L1982.6,491.6L1987.6,499.9L1991.8,509.1L1995.1,519.1L1997.3,529.6L1998.5,540.5Z" fill="#ff3700"/>
<path d="M1997.3,552L1995.9,564L1993.3,575.6L1989.5,586.6L1984.6,596.7L1978.9,605.9L1972.7,613.8L1966.2,620.3L1959.7,625.3L1953.8,628.7L1949,630.4L1946,630.4L1941.2,628.7L1935.3,625.3L1928.8,620.3L1922.3,613.8L1916.1,605.9L1910.4,596.7L1905.5,586.6L1901.7,575.6L1899.1,564L1897.7,552L1897.7,540.6L1898.8,530L1900.9,519.6L1904.1,509.8L1908.2,500.8L1913.2,492.6L1918.8,485.6L1925,479.7L1931.5,475.3L1938.2,472.2L1944.7,470.7L1950.3,470.7L1956.8,472.2L1963.5,475.3L1970,479.7L1976.2,485.6L1981.8,492.6L1986.8,500.8L1990.9,509.8L1994.1,519.6L1996.2,530L1997.3,540.6Z" fill="#ff2400"/>
<path d="M1996.2,551.9L1994.9,563.4L1992.3,574.7L1988.5,585.3L1983.8,595.1L1978.3,604L1972.2,611.7L1965.8,618L1959.5,622.8L1953.7,626.1L1948.9,627.8L1946.1,627.8L1941.3,626.1L1935.5,622.8L1929.2,618L1922.8,611.7L1916.7,604L1911.2,595.1L1906.5,585.3L1902.7,574.7L1900.1,563.4L1898.8,551.9L1898.8,540.7L1899.8,530.3L1902,520.1L1905.1,510.5L1909.1,501.7L1913.9,493.7L1919.4,486.8L1925.5,481.1L1931.9,476.7L1938.4,473.7L1944.7,472.2L1950.3,472.2L1956.6,473.7L1963.1,476.7L1969.5,481.1L1975.6,486.8L1981.1,493.7L1985.9,501.7L1989.9,510.5L1993,520.1L1995.2,530.3L1996.2,540.7Z" fill="#ff1200"/>
<path d="M1995.1,551.7L1993.8,562.9L1991.3,573.8L1987.7,584.1L1983,593.6L1977.6,602.2L1971.7,609.6L1965.4,615.8L1959.3,620.5L1953.6,623.7L1948.9,625.3L1946.1,625.3L1941.4,623.7L1935.7,620.5L1929.6,615.8L1923.3,609.6L1917.4,602.2L1912,593.6L1907.3,584.1L1903.7,573.8L1901.2,562.9L1899.9,551.7L1899.8,540.8L1900.9,530.6L1902.9,520.7L1906,511.3L1909.9,502.6L1914.6,494.7L1920,488L1925.9,482.4L1932.2,478.1L1938.5,475.2L1944.7,473.7L1950.3,473.7L1956.5,475.2L1962.8,478.1L1969.1,482.4L1975,488L1980.4,494.7L1985.1,502.6L1989,511.3L1992.1,520.7L1994.1,530.6L1995.2,540.8Z" fill="#ff0000"/>
<path d="M1994.1,551.5L1992.8,562.4L1990.4,572.9L1986.9,582.9L1982.4,592.1L1977.2,600.4L1971.4,607.6L1965.3,613.5L1959.3,618.1L1953.6,621.2L1949,622.8L1946,622.8L1941.4,621.2L1935.7,618.1L1929.7,613.5L1923.6,607.6L1917.8,600.4L1912.6,592.1L1908.1,582.9L1904.6,572.9L1902.2,562.4L1900.9,551.5L1900.9,540.9L1901.9,530.9L1904,521.2L1907,512L1910.9,503.5L1915.5,495.8L1920.8,489.2L1926.6,483.7L1932.7,479.5L1938.9,476.6L1944.9,475.2L1950.1,475.2L1956.1,476.6L1962.3,479.5L1968.4,483.7L1974.2,489.2L1979.5,495.8L1984.1,503.5L1988,512L1991,521.2L1993.1,530.9L1994.1,540.9Z" fill="#ff0012"/>
<path d="M1993.1,551.3L1991.9,561.8L1989.5,572L1986.1,581.7L1981.8,590.6L1976.7,598.6L1971.1,605.6L1965.2,611.3L1959.3,615.7L1953.7,618.7L1949,620.2L1946,620.2L1941.3,618.7L1935.7,615.7L1929.8,611.3L1923.9,605.6L1918.3,598.6L1913.2,590.6L1908.9,581.7L1905.5,572L1903.1,561.8L1901.9,551.3L1901.9,541L1903,531.2L1905,521.7L1908,512.7L1911.8,504.3L1916.4,496.8L1921.6,490.3L1927.3,485L1933.3,480.8L1939.3,478L1945.1,476.6L1949.9,476.6L1955.7,478L1961.7,480.8L1967.7,485L1973.4,490.3L1978.6,496.8L1983.2,504.3L1987,512.7L1990,521.7L1992,531.2L1993.1,541Z" fill="#ff0024"/>
<path d="M1992.1,551.1L1990.9,561.3L1988.6,571.1L1985.4,580.4L1981.2,589.1L1976.3,596.8L1970.8,603.5L1965.1,609.1L1959.3,613.3L1953.8,616.2L1949.1,617.7L1945.9,617.7L1941.2,616.2L1935.7,613.3L1929.9,609.1L1924.2,603.5L1918.7,596.8L1913.8,589.1L1909.6,580.4L1906.4,571.1L1904.1,561.3L1902.9,551.1L1902.9,541.1L1904,531.5L1906,522.2L1908.9,513.3L1912.7,505.2L1917.3,497.8L1922.4,491.4L1928,486.2L1933.8,482.2L1939.7,479.4L1945.2,478L1949.8,478L1955.3,479.4L1961.2,482.2L1967,486.2L1972.6,491.4L1977.7,497.8L1982.3,505.2L1986.1,513.3L1989,522.2L1991,531.5L1992.1,541.1Z" fill="#ff0037"/>
<path d="M1991.1,550.9L1990,560.7L1987.8,570.2L1984.6,579.2L1980.6,587.5L1975.8,595L1970.5,601.5L1964.9,606.9L1959.2,611L1953.8,613.7L1949.1,615.2L1945.9,615.2L1941.2,613.7L1935.8,611L1930.1,606.9L1924.5,601.5L1919.2,595L1914.4,587.5L1910.4,579.2L1907.2,570.2L1905,560.7L1903.9,550.9L1903.9,541.2L1904.9,531.8L1906.9,522.7L1909.8,514L1913.6,506L1918.1,498.8L1923.2,492.5L1928.6,487.4L1934.4,483.4L1940.1,480.8L1945.4,479.4L1949.6,479.4L1954.9,480.8L1960.6,483.4L1966.4,487.4L1971.8,492.5L1976.9,498.8L1981.4,506L1985.2,514L1988.1,522.7L1990.1,531.8L1991.1,541.2Z" fill="#ff0049"/>
<path d="M1990.1,550.8L1989,560.2L1987,569.4L1983.9,578L1980,586L1975.4,593.3L1970.3,599.5L1964.8,604.7L1959.2,608.6L1953.9,611.3L1949.2,612.7L1945.8,612.7L1941.1,611.3L1935.8,608.6L1930.2,604.7L1924.7,599.5L1919.6,593.3L1915,586L1911.1,578L1908,569.4L1906,560.2L1904.9,550.8L1904.9,541.3L1905.9,532.1L1907.9,523.1L1910.8,514.6L1914.5,506.8L1918.9,499.7L1923.9,493.6L1929.3,488.6L1934.9,484.7L1940.4,482.1L1945.5,480.7L1949.5,480.7L1954.6,482.1L1960.1,484.7L1965.7,488.6L1971.1,493.6L1976.1,499.7L1980.5,506.8L1984.2,514.6L1987.1,523.1L1989.1,532.1L1990.1,541.3Z" fill="#ff005b"/>
<path d="M1989.2,550.6L1988.1,559.7L1986.1,568.5L1983.2,576.8L1979.4,584.6L1974.9,591.5L1970,597.5L1964.6,602.5L1959.2,606.3L1953.9,608.9L1949.2,610.2L1945.8,610.2L1941.1,608.9L1935.8,606.3L1930.4,602.5L1925,597.5L1920.1,591.5L1915.6,584.6L1911.8,576.8L1908.9,568.5L1906.9,559.7L1905.8,550.6L1905.8,541.4L1906.8,532.4L1908.8,523.6L1911.7,515.3L1915.3,507.6L1919.7,500.7L1924.6,494.7L1929.9,489.8L1935.4,486L1940.7,483.4L1945.6,482.1L1949.4,482.1L1954.3,483.4L1959.6,486L1965.1,489.8L1970.4,494.7L1975.3,500.7L1979.7,507.6L1983.3,515.3L1986.2,523.6L1988.2,532.4L1989.2,541.4Z" fill="#ff006d"/>
<path d="M1988.2,550.4L1987.2,559.2L1985.3,567.6L1982.4,575.7L1978.8,583.1L1974.5,589.8L1969.6,595.6L1964.5,600.4L1959.1,604L1953.9,606.5L1949.2,607.8L1945.8,607.8L1941.1,606.5L1935.9,604L1930.5,600.4L1925.4,595.6L1920.5,589.8L1916.2,583.1L1912.6,575.7L1909.7,567.6L1907.8,559.2L1906.8,550.4L1906.8,541.5L1907.8,532.7L1909.7,524.1L1912.6,515.9L1916.2,508.4L1920.5,501.6L1925.4,495.8L1930.5,490.9L1935.9,487.2L1941.1,484.7L1945.8,483.4L1949.2,483.4L1953.9,484.7L1959.1,487.2L1964.5,490.9L1969.6,495.8L1974.5,501.6L1978.8,508.4L1982.4,515.9L1985.3,524.1L1987.2,532.7L1988.2,541.5Z" fill="#ff0080"/>
<path d="M1987.2,550.3L1986.3,558.7L1984.4,566.8L1981.7,574.6L1978.2,581.7L1974,588.1L1969.3,593.7L1964.3,598.3L1959.1,601.8L1953.9,604.2L1949.3,605.4L1945.7,605.4L1941.1,604.2L1935.9,601.8L1930.7,598.3L1925.7,593.7L1921,588.1L1916.8,581.7L1913.3,574.6L1910.6,566.8L1908.7,558.7L1907.8,550.3L1907.8,541.6L1908.8,533L1910.7,524.6L1913.5,516.6L1917.1,509.2L1921.3,502.6L1926.1,496.9L1931.2,492.2L1936.4,488.5L1941.4,486L1945.9,484.8L1949.1,484.8L1953.6,486L1958.6,488.5L1963.8,492.2L1968.9,496.9L1973.7,502.6L1977.9,509.2L1981.5,516.6L1984.3,524.6L1986.2,533L1987.2,541.6Z" fill="#ff0092"/>
<path d="M1986.2,550.1L1985.3,558.2L1983.5,566L1980.9,573.5L1977.5,580.3L1973.5,586.5L1969,591.9L1964.1,596.3L1959,599.7L1954,602L1949.3,603.2L1945.7,603.2L1941,602L1936,599.7L1930.9,596.3L1926,591.9L1921.5,586.5L1917.5,580.3L1914.1,573.5L1911.5,566L1909.7,558.2L1908.8,550.1L1908.8,541.7L1909.7,533.3L1911.6,525L1914.4,517.3L1917.9,510.1L1922.1,503.6L1926.8,498L1931.8,493.4L1936.8,489.8L1941.7,487.4L1946,486.2L1949,486.2L1953.3,487.4L1958.2,489.8L1963.2,493.4L1968.2,498L1972.9,503.6L1977.1,510.1L1980.6,517.3L1983.4,525L1985.3,533.3L1986.2,541.7Z" fill="#ff00a4"/>
<path d="M1985.2,549.9L1984.4,557.7L1982.6,565.3L1980.1,572.4L1976.9,579L1973,585L1968.6,590.1L1963.8,594.4L1958.9,597.6L1954,599.9L1949.4,601L1945.6,601L1941,599.9L1936.1,597.6L1931.2,594.4L1926.4,590.1L1922,585L1918.1,579L1914.9,572.4L1912.4,565.3L1910.6,557.7L1909.8,549.9L1909.8,541.8L1910.7,533.6L1912.6,525.6L1915.3,518L1918.8,510.9L1923,504.6L1927.5,499.2L1932.4,494.7L1937.3,491.2L1942,488.8L1946.1,487.6L1948.9,487.6L1953,488.8L1957.7,491.2L1962.6,494.7L1967.5,499.2L1972,504.6L1976.2,510.9L1979.7,518L1982.4,525.6L1984.3,533.6L1985.2,541.8Z" fill="#ff00b6"/>
<path d="M1984.2,549.8L1983.4,557.3L1981.7,564.5L1979.3,571.4L1976.2,577.8L1972.4,583.5L1968.2,588.5L1963.6,592.5L1958.8,595.7L1953.9,597.8L1949.4,598.9L1945.6,598.9L1941.1,597.8L1936.2,595.7L1931.4,592.5L1926.8,588.5L1922.6,583.5L1918.8,577.8L1915.7,571.4L1913.3,564.5L1911.6,557.3L1910.8,549.8L1910.8,541.9L1911.7,533.9L1913.6,526.1L1916.3,518.7L1919.7,511.8L1923.8,505.7L1928.3,500.4L1933,496L1937.8,492.6L1942.3,490.3L1946.2,489.2L1948.8,489.2L1952.7,490.3L1957.2,492.6L1962,496L1966.7,500.4L1971.2,505.7L1975.3,511.8L1978.7,518.7L1981.4,526.1L1983.3,533.9L1984.2,541.9Z" fill="#ff00c8"/>
<path d="M1983.2,549.6L1982.4,556.9L1980.8,563.8L1978.4,570.5L1975.4,576.6L1971.8,582.1L1967.7,586.9L1963.3,590.8L1958.6,593.8L1953.9,595.9L1949.4,596.9L1945.6,596.9L1941.1,595.9L1936.4,593.8L1931.7,590.8L1927.3,586.9L1923.2,582.1L1919.6,576.6L1916.6,570.5L1914.2,563.8L1912.6,556.9L1911.8,549.6L1911.9,542L1912.8,534.2L1914.6,526.6L1917.3,519.4L1920.7,512.8L1924.6,506.8L1929,501.6L1933.7,497.4L1938.3,494.1L1942.7,491.8L1946.3,490.7L1948.7,490.7L1952.3,491.8L1956.7,494.1L1961.3,497.4L1966,501.6L1970.4,506.8L1974.3,512.8L1977.7,519.4L1980.4,526.6L1982.2,534.2L1983.1,542Z" fill="#ff00db"/>
<path d="M1982.1,549.5L1981.3,556.5L1979.8,563.2L1977.5,569.6L1974.7,575.5L1971.2,580.8L1967.3,585.4L1963,589.2L1958.4,592.1L1953.8,594.1L1949.4,595.1L1945.6,595.1L1941.2,594.1L1936.6,592.1L1932,589.2L1927.7,585.4L1923.8,580.8L1920.3,575.5L1917.5,569.6L1915.2,563.2L1913.7,556.5L1912.9,549.5L1913,542.2L1913.9,534.6L1915.7,527.2L1918.3,520.2L1921.6,513.8L1925.5,508L1929.8,503L1934.3,498.8L1938.8,495.6L1943,493.5L1946.4,492.4L1948.6,492.4L1952,493.5L1956.2,495.6L1960.7,498.8L1965.2,503L1969.5,508L1973.4,513.8L1976.7,520.2L1979.3,527.2L1981.1,534.6L1982,542.2Z" fill="#ff00ed"/>
<path d="M1980.9,549.4L1980.2,556.1L1978.7,562.6L1976.6,568.8L1973.8,574.5L1970.5,579.6L1966.8,584L1962.6,587.7L1958.3,590.5L1953.8,592.4L1949.4,593.4L1945.6,593.4L1941.2,592.4L1936.7,590.5L1932.4,587.7L1928.2,584L1924.5,579.6L1921.2,574.5L1918.4,568.8L1916.3,562.6L1914.8,556.1L1914.1,549.4L1914.1,542.3L1915,534.9L1916.8,527.8L1919.3,521.1L1922.6,514.8L1926.4,509.2L1930.6,504.4L1934.9,500.4L1939.3,497.3L1943.3,495.2L1946.5,494.1L1948.5,494.1L1951.7,495.2L1955.7,497.3L1960.1,500.4L1964.4,504.4L1968.6,509.2L1972.4,514.8L1975.7,521.1L1978.2,527.8L1980,534.9L1980.9,542.3Z" fill="#ff00ff"/>
<path d="M1979.4,549.3L1978.7,555.7L1977.3,561.9L1975.3,567.9L1972.6,573.3L1969.5,578.3L1965.9,582.5L1962,586L1957.8,588.7L1953.5,590.6L1949.4,591.5L1945.6,591.5L1941.5,590.6L1937.2,588.7L1933,586L1929.1,582.5L1925.5,578.3L1922.4,573.3L1919.7,567.9L1917.7,561.9L1916.3,555.7L1915.6,549.3L1915.7,542.5L1916.5,535.5L1918.2,528.7L1920.6,522.3L1923.6,516.3L1927.2,511L1931.1,506.4L1935.3,502.5L1939.4,499.6L1943.3,497.6L1946.5,496.6L1948.5,496.6L1951.7,497.6L1955.6,499.6L1959.7,502.5L1963.9,506.4L1967.8,511L1971.4,516.3L1974.4,522.3L1976.8,528.7L1978.5,535.5L1979.3,542.5Z" fill="#ff18ff"/>
<path d="M1977.7,549.1L1977.1,555.4L1975.8,561.4L1973.8,567.1L1971.4,572.4L1968.4,577.1L1965,581.3L1961.2,584.7L1957.3,587.3L1953.2,589L1949.3,589.9L1945.7,589.9L1941.8,589L1937.7,587.3L1933.8,584.7L1930,581.3L1926.6,577.1L1923.6,572.4L1921.2,567.1L1919.2,561.4L1917.9,555.4L1917.3,549.1L1917.3,542.7L1918.1,536.1L1919.6,529.6L1921.9,523.6L1924.7,518L1928.1,512.9L1931.8,508.5L1935.7,504.9L1939.6,502.1L1943.3,500.3L1946.5,499.3L1948.5,499.3L1951.7,500.3L1955.4,502.1L1959.3,504.9L1963.2,508.5L1966.9,512.9L1970.3,518L1973.1,523.6L1975.4,529.6L1976.9,536.1L1977.7,542.7Z" fill="#ff30ff"/>
<path d="M1976,549L1975.4,555L1974.2,560.9L1972.4,566.4L1970,571.5L1967.2,576.1L1964,580L1960.5,583.3L1956.8,585.8L1952.9,587.6L1949.2,588.4L1945.8,588.4L1942.1,587.6L1938.2,585.8L1934.5,583.3L1931,580L1927.8,576.1L1925,571.5L1922.6,566.4L1920.8,560.9L1919.6,555L1919,549L1919,542.9L1919.7,536.7L1921.2,530.7L1923.2,525L1925.9,519.7L1929,515L1932.5,510.9L1936.2,507.5L1939.9,504.9L1943.4,503.1L1946.5,502.2L1948.5,502.2L1951.6,503.1L1955.1,504.9L1958.8,507.5L1962.5,510.9L1966,515L1969.1,519.7L1971.8,525L1973.8,530.7L1975.3,536.7L1976,542.9Z" fill="#ff47ff"/>
<path d="M1974.2,548.9L1973.6,554.7L1972.4,560.3L1970.8,565.6L1968.6,570.5L1966,574.9L1963,578.7L1959.7,581.8L1956.2,584.3L1952.6,585.9L1949.1,586.7L1945.9,586.7L1942.4,585.9L1938.8,584.3L1935.3,581.8L1932,578.7L1929,574.9L1926.4,570.5L1924.2,565.6L1922.6,560.3L1921.4,554.7L1920.8,548.9L1920.8,543.1L1921.5,537.3L1922.8,531.7L1924.7,526.4L1927.2,521.5L1930.1,517.1L1933.3,513.3L1936.7,510.2L1940.2,507.8L1943.5,506.1L1946.5,505.3L1948.5,505.3L1951.5,506.1L1954.8,507.8L1958.3,510.2L1961.7,513.3L1964.9,517.1L1967.8,521.5L1970.3,526.4L1972.2,531.7L1973.5,537.3L1974.2,543.1Z" fill="#ff5fff"/>
<path d="M1972.2,548.8L1971.7,554.2L1970.6,559.5L1969,564.6L1967,569.2L1964.6,573.4L1961.8,577L1958.8,580L1955.6,582.3L1952.2,583.8L1949,584.6L1946,584.6L1942.8,583.8L1939.4,582.3L1936.2,580L1933.2,577L1930.4,573.4L1928,569.2L1926,564.6L1924.4,559.5L1923.3,554.2L1922.8,548.8L1922.8,543.3L1923.4,538L1924.6,532.9L1926.4,528L1928.6,523.5L1931.2,519.4L1934.2,515.9L1937.4,513L1940.6,510.8L1943.7,509.2L1946.5,508.5L1948.5,508.5L1951.3,509.2L1954.4,510.8L1957.6,513L1960.8,515.9L1963.8,519.4L1966.4,523.5L1968.6,528L1970.4,532.9L1971.6,538L1972.2,543.3Z" fill="#ff77ff"/>
<path d="M1970.2,548.6L1969.7,553.7L1968.8,558.7L1967.3,563.4L1965.5,567.7L1963.3,571.6L1960.7,575L1957.9,577.8L1954.9,580L1951.9,581.4L1948.9,582.2L1946.1,582.2L1943.1,581.4L1940.1,580L1937.1,577.8L1934.3,575L1931.7,571.6L1929.5,567.7L1927.7,563.4L1926.2,558.7L1925.3,553.7L1924.8,548.6L1924.8,543.5L1925.3,538.6L1926.4,533.9L1928,529.4L1930,525.3L1932.4,521.5L1935.1,518.3L1938,515.6L1941,513.6L1943.9,512.2L1946.5,511.5L1948.5,511.5L1951.1,512.2L1954,513.6L1957,515.6L1959.9,518.3L1962.6,521.5L1965,525.3L1967,529.4L1968.6,533.9L1969.7,538.6L1970.2,543.5Z" fill="#ff8fff"/>
<path d="M1968,548.4L1967.6,553.1L1966.7,557.6L1965.4,561.9L1963.7,565.9L1961.7,569.5L1959.4,572.6L1956.9,575.1L1954.2,577.1L1951.5,578.4L1948.7,579.1L1946.3,579.1L1943.5,578.4L1940.8,577.1L1938.1,575.1L1935.6,572.6L1933.3,569.5L1931.3,565.9L1929.6,561.9L1928.3,557.6L1927.4,553.1L1927,548.4L1927,543.8L1927.5,539.3L1928.4,535.1L1929.8,531L1931.6,527.2L1933.8,523.9L1936.2,520.9L1938.8,518.5L1941.5,516.7L1944.1,515.4L1946.6,514.8L1948.4,514.8L1950.9,515.4L1953.5,516.7L1956.2,518.5L1958.8,520.9L1961.2,523.9L1963.4,527.2L1965.2,531L1966.6,535.1L1967.5,539.3L1968,543.8Z" fill="#ffa7ff"/>
<path d="M1965.1,548.1L1964.7,552.1L1963.9,556.1L1962.8,559.8L1961.4,563.3L1959.7,566.4L1957.7,569.1L1955.6,571.4L1953.3,573.1L1950.9,574.2L1948.6,574.8L1946.4,574.8L1944.1,574.2L1941.7,573.1L1939.4,571.4L1937.3,569.1L1935.3,566.4L1933.6,563.3L1932.2,559.8L1931.1,556.1L1930.3,552.1L1929.9,548.1L1929.9,544.1L1930.3,540.3L1931.2,536.6L1932.3,533.1L1933.9,529.9L1935.7,527L1937.7,524.4L1939.9,522.4L1942.2,520.8L1944.5,519.7L1946.7,519.1L1948.3,519.1L1950.5,519.7L1952.8,520.8L1955.1,522.4L1957.3,524.4L1959.3,527L1961.1,529.9L1962.7,533.1L1963.8,536.6L1964.7,540.3L1965.1,544.1Z" fill="#ffbeff"/>
<path d="M1960,547.5L1959.8,550.4L1959.2,553.3L1958.5,556L1957.4,558.5L1956.2,560.8L1954.8,562.7L1953.3,564.3L1951.6,565.6L1950,566.4L1948.3,566.8L1946.7,566.8L1945,566.4L1943.4,565.6L1941.7,564.3L1940.2,562.7L1938.8,560.8L1937.6,558.5L1936.5,556L1935.8,553.3L1935.2,550.4L1935,547.5L1935,544.6L1935.3,541.9L1935.8,539.2L1936.7,536.7L1937.7,534.4L1939,532.3L1940.5,530.5L1942,529L1943.7,527.9L1945.3,527.1L1946.9,526.7L1948.1,526.7L1949.7,527.1L1951.3,527.9L1953,529L1954.5,530.5L1956,532.3L1957.3,534.4L1958.3,536.7L1959.2,539.2L1959.7,541.9L1960,544.6Z" fill="#ffd6ff"/>
<ellipse cx="1947.5" cy="318" rx="40" ry="9" fill="#0048ff" opacity="0.8" filter="url(#bo)"/>
<ellipse cx="1947.5" cy="526.5" rx="30" ry="2.6" fill="#ff30ff" opacity="0.5"/>
<ellipse cx="1947.5" cy="542.8" rx="31" ry="2.6" fill="#ff30ff" opacity="0.45"/>
<ellipse cx="1947.5" cy="555.0" rx="31" ry="2.6" fill="#ff30ff" opacity="0.3"/>
<ellipse cx="1947.5" cy="564.8" rx="30" ry="2.6" fill="#ff30ff" opacity="0.45"/>
<ellipse cx="1947.5" cy="578.5" rx="28" ry="2.6" fill="#ff30ff" opacity="0.4"/>
<ellipse cx="1947.5" cy="510.0" rx="27" ry="2.6" fill="#ff30ff" opacity="0.4"/>
<ellipse cx="1947.5" cy="590.0" rx="22" ry="2.6" fill="#ff30ff" opacity="0.3"/>
</g>
</g>
<g filter="url(#b2)" fill="none">
<path d="M1472.8,90.8H1500.3M1472.8,208.7H1500.3M1472.8,327.8H1500.3M1472.8,447H1500.3M1472.8,565.7H1500.3M1472.8,680.5H1500.3M1472.8,799.1H1500.3M1472.8,917.4H1500.3M1472.8,1036.5H1500.3M1472.8,41.7H1485.2M1472.8,66.6H1485.2M1472.8,111.3H1485.2M1472.8,135.7H1485.2M1472.8,160.5H1485.2M1472.8,184.3H1485.2M1472.8,229.6H1485.2M1472.8,254.4H1485.2M1472.8,279.1H1485.2M1472.8,303.5H1485.2M1472.8,348.7H1485.2M1472.8,373.4H1485.2M1472.8,397.9H1485.2M1472.8,422.6H1485.2M1472.8,467.8H1485.2M1472.8,492.7H1485.2M1472.8,517.4H1485.2M1472.8,541.7H1485.2M1472.8,587H1485.2M1472.8,611.3H1485.2M1472.8,635.7H1485.2M1472.8,660.3H1485.2M1472.8,706.1H1485.2M1472.8,730.4H1485.2M1472.8,754.8H1485.2M1472.8,778.6H1485.2M1472.8,823.5H1485.2M1472.8,848.7H1485.2M1472.8,873H1485.2M1472.8,897.4H1485.2M1472.8,943.5H1485.2M1472.8,967.8H1485.2M1472.8,992.2H1485.2M1472.8,1062.3H1485.2M1472.8,1083.5H1485.2" stroke="#d9d9d9" stroke-width="3.4"/>
<path d="M1526.2,1093.4V1059.3M1633.4,1093.4V1059.3M1739.2,1093.4V1059.3M1843.6,1093.4V1059.3M1949.5,1093.4V1059.3M2052.1,1093.4V1059.3M2158.6,1093.4V1059.3M2263.5,1093.4V1059.3M2369.1,1093.4V1059.3M1482.1,1093.4V1075.3M1506.1,1093.4V1075.3M1545.7,1093.4V1075.3M1566.5,1093.4V1075.3M1589.9,1093.4V1075.3M1610.6,1093.4V1075.3M1651.6,1093.4V1075.3M1673,1093.4V1075.3M1695.1,1093.4V1075.3M1716.5,1093.4V1075.3M1757.4,1093.4V1075.3M1779.5,1093.4V1075.3M1799.5,1093.4V1075.3M1822.2,1093.4V1075.3M1863.1,1093.4V1075.3M1883.9,1093.4V1075.3M1905.3,1093.4V1075.3M1927.4,1093.4V1075.3M1969,1093.4V1075.3M1989.1,1093.4V1075.3M2012.5,1093.4V1075.3M2033.2,1093.4V1075.3M2073.5,1093.4V1075.3M2095.6,1093.4V1075.3M2117.2,1093.4V1075.3M2139.3,1093.4V1075.3M2179.3,1093.4V1075.3M2201.4,1093.4V1075.3M2222.8,1093.4V1075.3M2245.6,1093.4V1075.3M2285.6,1093.4V1075.3M2307,1093.4V1075.3M2329,1093.4V1075.3M2351.1,1093.4V1075.3M2391.2,1093.4V1075.3M2412.5,1093.4V1075.3" stroke="#d9d9d9" stroke-width="3.4"/>
</g>
<g clip-path="url(#pc)"><g filter="url(#bt)" font-family='"Liberation Sans", Arial, Helvetica, sans-serif' font-size="50.0" letter-spacing="-1.92" fill="#e4e4e4" stroke="#000" stroke-width="0.7">
<text transform="translate(1515.2,102.6) scale(0.85,1)" text-anchor="start">4000</text>
<text transform="translate(1515.2,221.1) scale(0.85,1)" text-anchor="start">3000</text>
<text transform="translate(1515.2,340.9) scale(0.85,1)" text-anchor="start">2000</text>
<text transform="translate(1515.2,459.6) scale(0.85,1)" text-anchor="start">1000</text>
<text transform="translate(1515.2,578) scale(0.85,1)" text-anchor="start">0</text>
<text transform="translate(1514.4,697.1) scale(0.85,1)" text-anchor="start">−1000</text>
<text transform="translate(1514.4,815.4) scale(0.85,1)" text-anchor="start">−2000</text>
<text transform="translate(1514.4,934.5) scale(0.85,1)" text-anchor="start">−3000</text>
<text transform="translate(1514.4,1053.6) scale(0.85,1)" text-anchor="start">−4000</text>
<text transform="translate(1464.8,1036.4) scale(0.85,1)" text-anchor="start">−4000</text>
<text transform="translate(1568.6,1036.4) scale(0.85,1)" text-anchor="start">−3000</text>
<text transform="translate(1674.6,1036.4) scale(0.85,1)" text-anchor="start">−2000</text>
<text transform="translate(1781,1036.4) scale(0.85,1)" text-anchor="start">−1000</text>
<text transform="translate(1930.4,1036.4) scale(0.85,1)" text-anchor="start">0</text>
<text transform="translate(2005.2,1036.4) scale(0.85,1)" text-anchor="start">1000</text>
<text transform="translate(2108.3,1036.4) scale(0.85,1)" text-anchor="start">2000</text>
<text transform="translate(2214.3,1036.4) scale(0.85,1)" text-anchor="start">3000</text>
<text transform="translate(2319.7,1036.4) scale(0.85,1)" text-anchor="start">4000</text>
</g></g>
<text transform="translate(1345.8,1080.8) scale(0.945,1)" font-family='"Liberation Sans", Arial, Helvetica, sans-serif' font-size="50.5" fill="#4e3652" stroke="#4e3652" stroke-width="0.9" filter="url(#bt)">Lin</text>
</g>
</svg>
</body>
</html>
